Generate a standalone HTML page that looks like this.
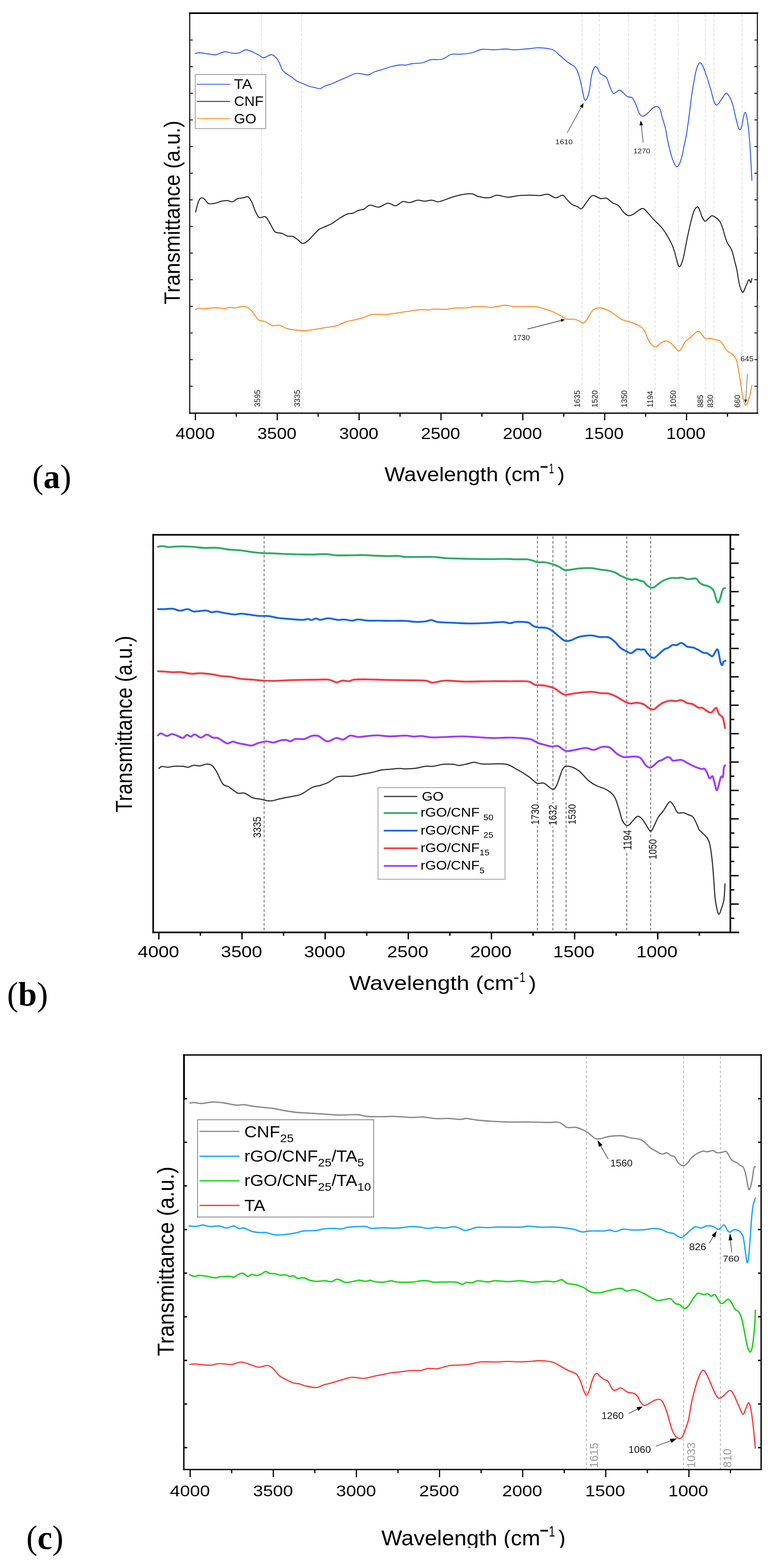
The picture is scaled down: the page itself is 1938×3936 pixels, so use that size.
<!DOCTYPE html><html><head><meta charset="utf-8"><style>html,body{margin:0;padding:0;background:#fff;overflow:hidden;width:1938px;height:3936px;}svg{display:block;}text{font-family:"Liberation Sans",Arial,sans-serif;}.serif{font-family:"Liberation Serif","Times New Roman",serif;font-weight:bold;}</style></head><body>
<svg width="1938" height="3936" viewBox="0 0 1938 3936">
<rect width="1938" height="3936" fill="#fff"/>
<line x1="656.5" y1="36.0" x2="656.5" y2="1035.0" stroke="#d4d4d4" stroke-width="1.60" stroke-dasharray="7,5"/>
<line x1="757.0" y1="36.0" x2="757.0" y2="1035.0" stroke="#d4d4d4" stroke-width="1.60" stroke-dasharray="7,5"/>
<line x1="1461.0" y1="36.0" x2="1461.0" y2="1035.0" stroke="#d4d4d4" stroke-width="1.60" stroke-dasharray="7,5"/>
<line x1="1504.5" y1="36.0" x2="1504.5" y2="1035.0" stroke="#d4d4d4" stroke-width="1.60" stroke-dasharray="7,5"/>
<line x1="1578.0" y1="36.0" x2="1578.0" y2="1035.0" stroke="#d4d4d4" stroke-width="1.60" stroke-dasharray="7,5"/>
<line x1="1644.5" y1="36.0" x2="1644.5" y2="1035.0" stroke="#d4d4d4" stroke-width="1.60" stroke-dasharray="7,5"/>
<line x1="1702.5" y1="36.0" x2="1702.5" y2="1035.0" stroke="#d4d4d4" stroke-width="1.60" stroke-dasharray="7,5"/>
<line x1="1770.5" y1="36.0" x2="1770.5" y2="1035.0" stroke="#d4d4d4" stroke-width="1.60" stroke-dasharray="7,5"/>
<line x1="1792.5" y1="36.0" x2="1792.5" y2="1035.0" stroke="#d4d4d4" stroke-width="1.60" stroke-dasharray="7,5"/>
<line x1="1862.6" y1="36.0" x2="1862.6" y2="1035.0" stroke="#d4d4d4" stroke-width="1.60" stroke-dasharray="7,5"/>
<path d="M490.0,134.0 C491.8,133.8 495.8,132.3 501.0,132.5 C506.2,132.7 514.3,134.2 521.0,135.0 C527.7,135.8 533.9,138.3 541.0,137.5 C548.1,136.7 556.8,130.8 563.5,130.0 C570.2,129.2 575.2,132.4 581.0,133.0 C586.8,133.6 592.5,134.8 598.5,133.5 C604.5,132.2 610.8,125.3 617.0,125.0 C623.2,124.7 630.3,129.2 636.0,131.5 C641.7,133.8 646.7,136.8 651.0,139.0 C655.3,141.2 657.2,145.2 662.0,145.0 C666.8,144.8 675.2,137.9 680.0,137.5 C684.8,137.1 687.7,139.6 691.0,142.5 C694.3,145.4 697.1,149.6 700.0,155.0 C702.9,160.4 705.4,170.0 708.5,175.0 C711.6,180.0 714.8,182.1 718.5,185.0 C722.2,187.9 726.4,189.3 731.0,192.5 C735.6,195.7 741.0,201.1 746.0,204.0 C751.0,206.9 756.0,207.9 761.0,210.0 C766.0,212.1 771.0,214.8 776.0,216.5 C781.0,218.2 786.4,219.0 791.0,220.0 C795.6,221.0 799.3,223.2 803.5,222.5 C807.7,221.8 810.6,218.2 816.0,216.0 C821.4,213.8 829.3,211.7 836.0,209.0 C842.7,206.3 849.3,202.9 856.0,200.0 C862.7,197.1 870.2,194.0 876.0,191.5 C881.8,189.0 886.0,186.1 891.0,185.0 C896.0,183.9 900.6,184.5 906.0,185.0 C911.4,185.5 917.7,188.8 923.5,188.0 C929.3,187.2 934.8,182.3 941.0,180.0 C947.2,177.7 954.3,176.1 961.0,174.0 C967.7,171.9 973.9,169.3 981.0,167.5 C988.1,165.7 997.2,163.7 1003.5,163.0 C1009.8,162.3 1013.5,164.0 1018.5,163.5 C1023.5,163.0 1026.4,161.0 1033.5,160.0 C1040.6,159.0 1053.1,159.2 1061.0,157.5 C1068.9,155.8 1072.8,151.5 1081.0,150.0 C1089.2,148.5 1101.4,150.8 1110.0,148.5 C1118.6,146.2 1125.0,138.6 1132.5,136.5 C1140.0,134.4 1146.7,136.6 1155.0,136.0 C1163.3,135.4 1173.3,135.0 1182.5,133.0 C1191.7,131.0 1200.4,125.3 1210.0,124.0 C1219.6,122.7 1230.0,125.2 1240.0,125.0 C1250.0,124.8 1261.7,123.0 1270.0,123.0 C1278.3,123.0 1280.8,125.1 1290.0,125.0 C1299.2,124.9 1314.2,123.3 1325.0,122.5 C1335.8,121.7 1344.6,119.6 1355.0,120.0 C1365.4,120.4 1379.2,121.8 1387.5,125.0 C1395.8,128.2 1398.8,133.8 1405.0,139.0 C1411.2,144.2 1418.8,151.2 1425.0,156.0 C1431.2,160.8 1438.3,163.5 1442.5,167.5 C1446.7,171.5 1447.5,173.8 1450.0,180.0 C1452.5,186.2 1455.4,196.7 1457.5,205.0 C1459.6,213.3 1460.8,222.5 1462.5,230.0 C1464.2,237.5 1465.8,246.8 1467.5,250.0 C1469.2,253.2 1470.6,252.3 1472.5,249.0 C1474.4,245.7 1476.9,239.8 1479.0,230.0 C1481.1,220.2 1482.8,200.2 1485.0,190.0 C1487.2,179.8 1490.2,172.3 1492.5,169.0 C1494.8,165.7 1496.5,167.3 1499.0,170.0 C1501.5,172.7 1503.6,180.8 1507.5,185.0 C1511.4,189.2 1518.8,190.0 1522.5,195.0 C1526.2,200.0 1527.2,208.5 1530.0,215.0 C1532.8,221.5 1536.1,231.3 1539.0,234.0 C1541.9,236.7 1544.8,232.3 1547.5,231.0 C1550.2,229.7 1552.5,226.0 1555.0,226.0 C1557.5,226.0 1559.2,228.2 1562.5,231.0 C1565.8,233.8 1570.8,240.0 1575.0,242.5 C1579.2,245.0 1583.8,242.2 1587.5,246.0 C1591.2,249.8 1594.6,258.5 1597.5,265.0 C1600.4,271.5 1602.3,280.5 1605.0,285.0 C1607.7,289.5 1610.4,292.0 1613.8,292.0 C1617.1,292.0 1621.0,288.2 1625.0,285.0 C1629.0,281.8 1633.8,275.4 1637.5,272.5 C1641.2,269.6 1644.4,267.5 1647.5,267.5 C1650.6,267.5 1653.8,267.9 1656.2,272.5 C1658.8,277.1 1660.2,287.1 1662.5,295.0 C1664.8,302.9 1667.9,311.2 1670.0,320.0 C1672.1,328.8 1673.1,338.3 1675.0,347.5 C1676.9,356.7 1679.2,366.7 1681.2,375.0 C1683.3,383.3 1685.2,390.8 1687.5,397.5 C1689.8,404.2 1692.9,411.5 1695.0,415.0 C1697.1,418.5 1698.1,419.6 1700.0,418.8 C1701.9,417.9 1704.2,414.8 1706.2,410.0 C1708.3,405.2 1710.6,397.5 1712.5,390.0 C1714.4,382.5 1715.8,372.9 1717.5,365.0 C1719.2,357.1 1720.4,355.0 1722.5,342.5 C1724.6,330.0 1727.7,307.1 1730.0,290.0 C1732.3,272.9 1734.0,255.8 1736.2,240.0 C1738.5,224.2 1741.5,206.9 1743.8,195.0 C1746.0,183.1 1747.7,175.0 1750.0,168.8 C1752.3,162.5 1755.0,157.7 1757.5,157.5 C1760.0,157.3 1762.1,161.2 1765.0,167.5 C1767.9,173.8 1771.7,185.0 1775.0,195.0 C1778.3,205.0 1782.1,217.5 1785.0,227.5 C1787.9,237.5 1790.2,249.0 1792.5,255.0 C1794.8,261.0 1796.2,263.8 1798.8,263.8 C1801.2,263.8 1804.4,259.0 1807.5,255.0 C1810.6,251.0 1814.8,243.5 1817.5,240.0 C1820.2,236.5 1821.2,232.9 1823.8,233.8 C1826.2,234.6 1829.8,239.8 1832.5,245.0 C1835.2,250.2 1837.5,256.2 1840.0,265.0 C1842.5,273.8 1845.0,287.7 1847.5,297.5 C1850.0,307.3 1852.7,320.0 1855.0,323.8 C1857.3,327.5 1859.4,324.8 1861.2,320.0 C1863.1,315.2 1864.7,301.3 1866.2,295.0 C1867.8,288.7 1869.0,282.0 1870.5,282.0 C1872.0,282.0 1873.4,286.6 1875.0,295.0 C1876.6,303.4 1878.5,317.9 1880.0,332.5 C1881.5,347.1 1882.5,362.5 1883.8,382.5 C1885.0,402.5 1886.9,440.8 1887.5,452.5" fill="none" stroke="#2f55ff" stroke-width="2.30" stroke-linejoin="round" stroke-linecap="round"/>
<path d="M491.0,532.5 C492.2,527.9 496.0,511.0 498.5,505.0 C501.0,499.0 503.5,497.3 506.0,496.5 C508.5,495.7 510.6,497.6 513.5,500.0 C516.4,502.4 518.9,509.3 523.5,511.0 C528.1,512.7 535.6,511.0 541.0,510.0 C546.4,509.0 551.0,506.1 556.0,505.0 C561.0,503.9 566.4,503.2 571.0,503.5 C575.6,503.8 579.3,507.2 583.5,506.5 C587.7,505.8 591.4,500.7 596.0,499.0 C600.6,497.3 606.7,497.3 611.0,496.5 C615.3,495.7 618.7,492.6 622.0,494.0 C625.3,495.4 627.8,499.0 631.0,505.0 C634.2,511.0 637.7,523.2 641.0,530.0 C644.3,536.8 646.8,543.7 651.0,546.0 C655.2,548.3 661.8,542.1 666.0,544.0 C670.2,545.9 672.2,551.5 676.0,557.5 C679.8,563.5 685.2,575.6 688.5,580.0 C691.8,584.4 692.7,583.0 696.0,584.0 C699.3,585.0 704.3,584.6 708.5,586.0 C712.7,587.4 716.4,591.2 721.0,592.5 C725.6,593.8 731.4,592.3 736.0,594.0 C740.6,595.7 744.6,599.7 748.5,602.5 C752.4,605.3 755.8,610.4 759.5,611.0 C763.2,611.6 766.6,609.3 771.0,606.0 C775.4,602.7 781.0,596.0 786.0,591.0 C791.0,586.0 796.0,579.7 801.0,576.0 C806.0,572.3 810.6,571.5 816.0,569.0 C821.4,566.5 827.7,564.3 833.5,561.0 C839.3,557.7 844.8,552.9 851.0,549.0 C857.2,545.1 865.2,539.8 871.0,537.5 C876.8,535.2 881.0,536.7 886.0,535.0 C891.0,533.3 896.4,529.2 901.0,527.5 C905.6,525.8 908.9,527.1 913.5,525.0 C918.1,522.9 922.2,515.8 928.5,515.0 C934.8,514.2 943.5,520.8 951.0,520.0 C958.5,519.2 966.4,510.6 973.5,510.0 C980.6,509.4 987.2,517.2 993.5,516.5 C999.8,515.8 1005.2,507.3 1011.0,506.0 C1016.8,504.7 1022.2,509.1 1028.5,508.5 C1034.8,507.9 1042.2,503.1 1048.5,502.5 C1054.8,501.9 1060.2,505.0 1066.0,505.0 C1071.8,505.0 1078.1,502.2 1083.5,502.5 C1088.9,502.8 1094.1,506.2 1098.5,506.5 C1102.9,506.8 1103.9,505.9 1110.0,504.0 C1116.1,502.1 1126.7,497.6 1135.0,495.0 C1143.3,492.4 1151.7,489.9 1160.0,488.5 C1168.3,487.1 1178.3,485.8 1185.0,486.5 C1191.7,487.2 1192.9,491.3 1200.0,493.0 C1207.1,494.7 1219.6,497.0 1227.5,496.5 C1235.4,496.0 1239.6,490.2 1247.5,490.0 C1255.4,489.8 1265.8,494.8 1275.0,495.0 C1284.2,495.2 1292.5,491.8 1302.5,491.0 C1312.5,490.2 1326.2,490.0 1335.0,490.0 C1343.8,490.0 1348.3,491.4 1355.0,491.0 C1361.7,490.6 1368.3,486.6 1375.0,487.5 C1381.7,488.4 1388.8,496.1 1395.0,496.5 C1401.2,496.9 1407.9,489.4 1412.5,490.0 C1417.1,490.6 1418.8,496.2 1422.5,500.0 C1426.2,503.8 1430.4,509.3 1435.0,512.5 C1439.6,515.7 1445.8,517.1 1450.0,519.0 C1454.2,520.9 1456.2,525.9 1460.0,524.0 C1463.8,522.1 1467.9,513.0 1472.5,507.5 C1477.1,502.0 1481.7,492.5 1487.5,491.0 C1493.3,489.5 1501.7,497.4 1507.5,498.5 C1513.3,499.6 1517.5,495.8 1522.5,497.5 C1527.5,499.2 1532.5,505.9 1537.5,509.0 C1542.5,512.1 1547.9,512.1 1552.5,516.0 C1557.1,519.9 1560.8,528.3 1565.0,532.5 C1569.2,536.7 1573.3,540.2 1577.5,541.0 C1581.7,541.8 1584.6,540.3 1590.0,537.5 C1595.4,534.7 1605.0,525.7 1610.0,524.0 C1615.0,522.3 1615.0,523.2 1620.0,527.5 C1625.0,531.8 1633.3,542.9 1640.0,550.0 C1646.7,557.1 1654.6,563.8 1660.0,570.0 C1665.4,576.2 1668.1,580.3 1672.5,587.5 C1676.9,594.7 1683.2,606.5 1686.5,613.3 C1689.8,620.1 1690.2,622.3 1692.1,628.2 C1694.0,634.1 1696.1,642.6 1697.8,648.8 C1699.5,655.0 1701.0,662.2 1702.4,665.6 C1703.8,669.0 1704.8,669.9 1706.2,669.3 C1707.6,668.7 1709.1,666.2 1710.8,661.9 C1712.5,657.5 1714.5,651.3 1716.4,643.2 C1718.3,635.1 1720.4,622.0 1722.1,613.3 C1723.8,604.6 1724.7,600.1 1726.7,590.8 C1728.7,581.4 1731.7,567.2 1734.2,557.2 C1736.7,547.2 1739.2,537.2 1741.7,531.0 C1744.2,524.8 1747.0,521.0 1749.2,519.8 C1751.4,518.6 1752.6,519.5 1754.8,523.6 C1757.0,527.7 1759.7,538.8 1762.2,544.1 C1764.7,549.4 1767.2,554.4 1769.7,555.3 C1772.2,556.2 1774.4,551.9 1777.2,549.7 C1780.0,547.5 1783.7,542.8 1786.5,541.9 C1789.3,541.0 1790.9,542.2 1794.0,544.1 C1797.1,546.0 1802.1,549.5 1805.2,553.5 C1808.3,557.5 1810.4,562.2 1812.7,568.4 C1815.0,574.6 1817.1,583.9 1819.3,590.8 C1821.5,597.6 1822.8,603.3 1825.8,609.5 C1828.8,615.7 1833.9,620.4 1837.0,628.2 C1840.1,636.0 1842.3,647.9 1844.5,656.3 C1846.7,664.7 1848.2,669.4 1850.1,678.7 C1852.0,688.0 1853.5,703.3 1855.7,712.3 C1857.9,721.3 1861.3,729.8 1863.2,732.9 C1865.1,736.0 1865.2,733.8 1866.9,731.0 C1868.6,728.2 1871.3,720.9 1873.5,716.1 C1875.7,711.3 1878.1,703.2 1880.0,702.1 C1881.9,701.0 1883.5,710.0 1884.7,709.5 C1886.0,709.0 1887.0,701.0 1887.5,699.3" fill="none" stroke="#222" stroke-width="2.50" stroke-linejoin="round" stroke-linecap="round"/>
<path d="M490.0,777.5 C491.4,776.8 494.6,773.8 498.5,773.5 C502.4,773.2 508.5,775.6 513.5,775.5 C518.5,775.4 522.2,773.4 528.5,773.0 C534.8,772.6 545.2,772.7 551.0,773.0 C556.8,773.3 559.3,775.2 563.5,775.0 C567.7,774.8 571.8,771.8 576.0,771.5 C580.2,771.2 583.1,773.4 588.5,773.0 C593.9,772.6 603.1,769.2 608.5,769.0 C613.9,768.8 616.8,769.2 621.0,771.5 C625.2,773.8 628.9,777.3 633.5,782.5 C638.1,787.7 643.1,798.3 648.5,802.5 C653.9,806.7 660.2,805.0 666.0,807.5 C671.8,810.0 677.7,816.0 683.5,817.5 C689.3,819.0 694.8,815.2 701.0,816.5 C707.2,817.8 713.5,822.9 721.0,825.0 C728.5,827.1 738.5,828.2 746.0,829.0 C753.5,829.8 759.3,830.2 766.0,830.0 C772.7,829.8 777.7,828.8 786.0,827.5 C794.3,826.2 806.0,824.2 816.0,822.5 C826.0,820.8 837.2,820.0 846.0,817.5 C854.8,815.0 861.8,809.8 868.5,807.5 C875.2,805.2 878.9,805.7 886.0,804.0 C893.1,802.3 903.5,799.8 911.0,797.5 C918.5,795.2 924.3,791.4 931.0,790.0 C937.7,788.6 943.9,789.2 951.0,789.0 C958.1,788.8 965.2,789.7 973.5,789.0 C981.8,788.3 989.8,786.7 1001.0,785.0 C1012.2,783.3 1031.0,780.3 1041.0,779.0 C1051.0,777.7 1055.2,777.2 1061.0,777.0 C1066.8,776.8 1071.4,778.2 1076.0,778.0 C1080.6,777.8 1082.8,776.2 1088.5,776.0 C1094.2,775.8 1103.9,776.5 1110.0,776.5 C1116.1,776.5 1119.2,776.6 1125.0,776.0 C1130.8,775.4 1137.5,773.5 1145.0,773.0 C1152.5,772.5 1162.5,773.5 1170.0,773.0 C1177.5,772.5 1182.5,770.5 1190.0,770.0 C1197.5,769.5 1207.9,769.7 1215.0,770.0 C1222.1,770.3 1226.7,772.2 1232.5,772.0 C1238.3,771.8 1243.9,770.0 1250.0,769.0 C1256.1,768.0 1262.3,765.9 1269.0,766.0 C1275.7,766.1 1281.5,768.9 1290.0,769.5 C1298.5,770.1 1310.8,769.4 1320.0,769.5 C1329.2,769.6 1337.5,769.1 1345.0,770.0 C1352.5,770.9 1358.3,773.1 1365.0,775.0 C1371.7,776.9 1378.3,778.8 1385.0,781.5 C1391.7,784.2 1398.8,787.8 1405.0,791.0 C1411.2,794.2 1416.7,799.3 1422.5,801.0 C1428.3,802.7 1435.0,800.3 1440.0,801.0 C1445.0,801.7 1448.8,803.3 1452.5,805.0 C1456.2,806.7 1459.2,811.2 1462.5,811.0 C1465.8,810.8 1468.8,808.8 1472.5,804.0 C1476.2,799.2 1480.8,787.6 1485.0,782.5 C1489.2,777.4 1492.9,774.9 1497.5,773.5 C1502.1,772.1 1506.7,772.5 1512.5,774.0 C1518.3,775.5 1526.2,779.0 1532.5,782.5 C1538.8,786.0 1544.6,791.4 1550.0,795.0 C1555.4,798.6 1560.0,801.9 1565.0,804.0 C1570.0,806.1 1573.3,805.1 1580.0,807.5 C1586.7,809.9 1598.8,814.8 1605.0,818.5 C1611.2,822.2 1613.3,823.5 1617.5,830.0 C1621.7,836.5 1625.4,850.7 1630.0,857.5 C1634.6,864.3 1640.4,870.2 1645.0,871.0 C1649.6,871.8 1653.3,865.0 1657.5,862.5 C1661.7,860.0 1665.8,856.4 1670.0,856.0 C1674.2,855.6 1678.3,857.2 1682.5,860.0 C1686.7,862.8 1691.5,869.0 1695.0,872.5 C1698.5,876.0 1700.9,880.5 1703.4,881.1 C1705.9,881.8 1707.0,880.5 1709.9,876.4 C1712.9,872.3 1717.0,861.8 1721.1,856.8 C1725.1,851.8 1730.5,849.8 1734.2,846.5 C1738.0,843.2 1740.6,839.7 1743.6,837.2 C1746.6,834.7 1749.5,831.9 1752.0,831.6 C1754.5,831.3 1756.2,833.0 1758.5,835.3 C1760.8,837.6 1763.8,843.1 1766.0,845.6 C1768.2,848.1 1768.8,849.7 1771.6,850.3 C1774.4,850.9 1779.1,849.0 1782.8,849.3 C1786.5,849.6 1790.3,851.1 1794.0,852.1 C1797.7,853.1 1802.1,853.4 1805.2,855.0 C1808.3,856.6 1809.9,857.9 1812.7,861.5 C1815.5,865.1 1819.3,872.7 1822.1,876.4 C1824.9,880.1 1826.7,881.7 1829.5,883.9 C1832.3,886.1 1835.9,886.7 1838.9,889.5 C1841.9,892.3 1845.1,896.0 1847.3,900.7 C1849.5,905.4 1850.3,909.2 1852.0,917.6 C1853.7,926.0 1855.7,939.4 1857.6,951.2 C1859.5,963.0 1861.5,978.9 1863.2,988.6 C1864.9,998.3 1866.4,1004.4 1867.9,1009.2 C1869.5,1014.0 1870.8,1017.9 1872.5,1017.6 C1874.2,1017.3 1876.2,1012.4 1878.1,1007.3 C1880.0,1002.1 1882.1,993.4 1883.7,986.7 C1885.3,980.0 1886.9,970.4 1887.5,967.1" fill="none" stroke="#ff8a1e" stroke-width="2.40" stroke-linejoin="round" stroke-linecap="round"/>
<rect x="474.5" y="31.0" width="1429.0" height="4.0" fill="#000"/>
<rect x="475.0" y="31.0" width="2.6" height="1008.0" fill="#000"/>
<rect x="1900.0" y="31.0" width="2.4" height="1008.0" fill="#000"/>
<rect x="1899.5" y="110.0" width="3.6" height="481.0" fill="#5e5e5e"/>
<rect x="1899.5" y="755.0" width="3.6" height="284.0" fill="#5e5e5e"/>
<rect x="474.5" y="1035.5" width="1429.0" height="3.2" fill="#000"/>
<line x1="476.0" y1="100.5" x2="484.0" y2="100.5" stroke="#000" stroke-width="2.20"/>
<line x1="1893.8" y1="100.5" x2="1901.0" y2="100.5" stroke="#000" stroke-width="2.20"/>
<line x1="476.0" y1="167.3" x2="484.0" y2="167.3" stroke="#000" stroke-width="2.20"/>
<line x1="1893.8" y1="167.3" x2="1901.0" y2="167.3" stroke="#000" stroke-width="2.20"/>
<line x1="476.0" y1="234.2" x2="484.0" y2="234.2" stroke="#000" stroke-width="2.20"/>
<line x1="1893.8" y1="234.2" x2="1901.0" y2="234.2" stroke="#000" stroke-width="2.20"/>
<line x1="476.0" y1="301.0" x2="484.0" y2="301.0" stroke="#000" stroke-width="2.20"/>
<line x1="1893.8" y1="301.0" x2="1901.0" y2="301.0" stroke="#000" stroke-width="2.20"/>
<line x1="476.0" y1="367.9" x2="484.0" y2="367.9" stroke="#000" stroke-width="2.20"/>
<line x1="1893.8" y1="367.9" x2="1901.0" y2="367.9" stroke="#000" stroke-width="2.20"/>
<line x1="476.0" y1="434.8" x2="484.0" y2="434.8" stroke="#000" stroke-width="2.20"/>
<line x1="1893.8" y1="434.8" x2="1901.0" y2="434.8" stroke="#000" stroke-width="2.20"/>
<line x1="476.0" y1="501.6" x2="484.0" y2="501.6" stroke="#000" stroke-width="2.20"/>
<line x1="1893.8" y1="501.6" x2="1901.0" y2="501.6" stroke="#000" stroke-width="2.20"/>
<line x1="476.0" y1="568.4" x2="484.0" y2="568.4" stroke="#000" stroke-width="2.20"/>
<line x1="1893.8" y1="568.4" x2="1901.0" y2="568.4" stroke="#000" stroke-width="2.20"/>
<line x1="476.0" y1="635.3" x2="484.0" y2="635.3" stroke="#000" stroke-width="2.20"/>
<line x1="1893.8" y1="635.3" x2="1901.0" y2="635.3" stroke="#000" stroke-width="2.20"/>
<line x1="476.0" y1="702.1" x2="484.0" y2="702.1" stroke="#000" stroke-width="2.20"/>
<line x1="1893.8" y1="702.1" x2="1901.0" y2="702.1" stroke="#000" stroke-width="2.20"/>
<line x1="476.0" y1="769.0" x2="484.0" y2="769.0" stroke="#000" stroke-width="2.20"/>
<line x1="1893.8" y1="769.0" x2="1901.0" y2="769.0" stroke="#000" stroke-width="2.20"/>
<line x1="476.0" y1="835.8" x2="484.0" y2="835.8" stroke="#000" stroke-width="2.20"/>
<line x1="1893.8" y1="835.8" x2="1901.0" y2="835.8" stroke="#000" stroke-width="2.20"/>
<line x1="476.0" y1="902.7" x2="484.0" y2="902.7" stroke="#000" stroke-width="2.20"/>
<line x1="1893.8" y1="902.7" x2="1901.0" y2="902.7" stroke="#000" stroke-width="2.20"/>
<line x1="476.0" y1="969.5" x2="484.0" y2="969.5" stroke="#000" stroke-width="2.20"/>
<line x1="1893.8" y1="969.5" x2="1901.0" y2="969.5" stroke="#000" stroke-width="2.20"/>
<line x1="490.5" y1="1037.0" x2="490.5" y2="1055.0" stroke="#000" stroke-width="3.00"/>
<line x1="593.2" y1="1037.0" x2="593.2" y2="1046.0" stroke="#000" stroke-width="3.00"/>
<line x1="696.0" y1="1037.0" x2="696.0" y2="1055.0" stroke="#000" stroke-width="3.00"/>
<line x1="798.8" y1="1037.0" x2="798.8" y2="1046.0" stroke="#000" stroke-width="3.00"/>
<line x1="901.5" y1="1037.0" x2="901.5" y2="1055.0" stroke="#000" stroke-width="3.00"/>
<line x1="1004.2" y1="1037.0" x2="1004.2" y2="1046.0" stroke="#000" stroke-width="3.00"/>
<line x1="1107.0" y1="1037.0" x2="1107.0" y2="1055.0" stroke="#000" stroke-width="3.00"/>
<line x1="1209.8" y1="1037.0" x2="1209.8" y2="1046.0" stroke="#000" stroke-width="3.00"/>
<line x1="1312.5" y1="1037.0" x2="1312.5" y2="1055.0" stroke="#000" stroke-width="3.00"/>
<line x1="1415.2" y1="1037.0" x2="1415.2" y2="1046.0" stroke="#000" stroke-width="3.00"/>
<line x1="1518.0" y1="1037.0" x2="1518.0" y2="1055.0" stroke="#000" stroke-width="3.00"/>
<line x1="1620.8" y1="1037.0" x2="1620.8" y2="1046.0" stroke="#000" stroke-width="3.00"/>
<line x1="1723.5" y1="1037.0" x2="1723.5" y2="1055.0" stroke="#000" stroke-width="3.00"/>
<line x1="1826.2" y1="1037.0" x2="1826.2" y2="1046.0" stroke="#000" stroke-width="3.00"/>
<text transform="translate(440.77,1102.00) scale(1.0790,1)" font-size="41.00" fill="#000">4000</text>
<text transform="translate(645.94,1102.00) scale(1.0790,1)" font-size="41.00" fill="#000">3500</text>
<text transform="translate(851.44,1102.00) scale(1.0790,1)" font-size="41.00" fill="#000">3000</text>
<text transform="translate(1056.66,1102.00) scale(1.0790,1)" font-size="41.00" fill="#000">2500</text>
<text transform="translate(1262.16,1102.00) scale(1.0790,1)" font-size="41.00" fill="#000">2000</text>
<text transform="translate(1467.11,1102.00) scale(1.0790,1)" font-size="41.00" fill="#000">1500</text>
<text transform="translate(1672.61,1102.00) scale(1.0790,1)" font-size="41.00" fill="#000">1000</text>
<rect x="490.3" y="187.1" width="176.9" height="135.6" fill="#fff" stroke="#9a9a9a" stroke-width="2"/>
<line x1="494.0" y1="211.5" x2="577.5" y2="211.5" stroke="#2f55ff" stroke-width="2.00"/>
<line x1="494.0" y1="254.6" x2="577.5" y2="254.6" stroke="#555" stroke-width="2.60"/>
<line x1="494.0" y1="297.5" x2="577.5" y2="297.5" stroke="#ff8a1e" stroke-width="2.20"/>
<text transform="translate(587.35,223.30) scale(1.0738,1)" font-size="35.20" fill="#000">TA</text>
<text transform="translate(587.50,266.05) scale(1.0320,1)" font-size="34.91" fill="#000">CNF</text>
<text transform="translate(587.49,309.75) scale(1.0357,1)" font-size="34.91" fill="#000">GO</text>
<text transform="translate(652.83,1021.52) scale(1.0000,1) rotate(-90)" font-size="19.30" fill="#1a1a1a">3595</text>
<text transform="translate(752.83,1021.52) scale(1.0000,1) rotate(-90)" font-size="19.30" fill="#1a1a1a">3335</text>
<text transform="translate(1455.63,1022.65) scale(1.0000,1) rotate(-90)" font-size="19.30" fill="#1a1a1a">1635</text>
<text transform="translate(1500.13,1022.65) scale(1.0000,1) rotate(-90)" font-size="19.30" fill="#1a1a1a">1520</text>
<text transform="translate(1574.03,1022.65) scale(1.0000,1) rotate(-90)" font-size="19.30" fill="#1a1a1a">1350</text>
<text transform="translate(1638.63,1022.65) scale(1.0000,1) rotate(-90)" font-size="19.30" fill="#1a1a1a">1194</text>
<text transform="translate(1697.33,1022.65) scale(1.0000,1) rotate(-90)" font-size="19.30" fill="#1a1a1a">1050</text>
<text transform="translate(1764.63,1023.12) scale(1.0000,1) rotate(-90)" font-size="19.30" fill="#1a1a1a">885</text>
<text transform="translate(1790.43,1023.02) scale(1.0000,1) rotate(-90)" font-size="19.30" fill="#1a1a1a">830</text>
<text transform="translate(1857.83,1023.26) scale(1.0000,1) rotate(-90)" font-size="19.30" fill="#1a1a1a">660</text>
<text transform="translate(1394.34,362.33) scale(1.1177,1)" font-size="17.39" fill="#1a1a1a">1610</text>
<line x1="1424.0" y1="333.3" x2="1460.2" y2="267.3" stroke="#222" stroke-width="1.30"/><polygon points="1465.0,258.5 1463.2,271.2 1455.3,266.9" fill="#000"/>
<text transform="translate(1590.08,385.33) scale(1.1085,1)" font-size="17.10" fill="#1a1a1a">1270</text>
<line x1="1614.6" y1="357.9" x2="1609.6" y2="312.4" stroke="#222" stroke-width="1.30"/><polygon points="1608.5,302.5 1614.3,313.9 1605.3,314.9" fill="#000"/>
<text transform="translate(1287.88,853.71) scale(0.9862,1)" font-size="19.22" fill="#1a1a1a">1730</text>
<line x1="1324.2" y1="826.0" x2="1410.4" y2="804.0" stroke="#222" stroke-width="1.30"/><polygon points="1418.2,802.0 1409.5,808.3 1407.5,800.6" fill="#000"/>
<text transform="translate(1858.81,907.21) scale(1.0256,1)" font-size="19.22" fill="#1a1a1a">645</text>
<line x1="1876.4" y1="938.8" x2="1871.9" y2="1004.9" stroke="#333" stroke-width="1.10"/><polygon points="1871.5,1010.9 1868.5,1002.7 1875.6,1003.2" fill="#000"/>
<text transform="translate(451.30,764.17) scale(1.0640,1) rotate(-90)" font-size="51.80" fill="#000">Transmittance (a.u.)</text>
<text transform="translate(965.33,1207.50) scale(1.0820,1)" font-size="50.30" fill="#000">Wavelength (cm</text>
<text transform="translate(1355.70,1184.44) scale(0.9928,1)" font-size="35.45" fill="#000" style="font-family:'Liberation Sans',Arial,sans-serif;font-weight:bold">&#8722;</text>
<text transform="translate(1378.07,1187.80) scale(0.6542,1)" font-size="35.35" fill="#000">1</text>
<text transform="translate(1399.39,1207.50) scale(1.0820,1)" font-size="50.30" fill="#000">)</text>
<text transform="translate(80.92,1225.38)" font-size="84.0" style="font-family:'Liberation Serif',serif">(<tspan font-weight="bold">a</tspan>)</text>
<line x1="663.0" y1="1346.0" x2="663.0" y2="2339.0" stroke="#2a2a2a" stroke-width="1.40" stroke-dasharray="7,4.7"/>
<line x1="1349.0" y1="1346.0" x2="1349.0" y2="2339.0" stroke="#2a2a2a" stroke-width="1.40" stroke-dasharray="7,4.7"/>
<line x1="1388.0" y1="1346.0" x2="1388.0" y2="2339.0" stroke="#2a2a2a" stroke-width="1.40" stroke-dasharray="7,4.7"/>
<line x1="1421.0" y1="1346.0" x2="1421.0" y2="2339.0" stroke="#2a2a2a" stroke-width="1.40" stroke-dasharray="7,4.7"/>
<line x1="1573.5" y1="1346.0" x2="1573.5" y2="2339.0" stroke="#2a2a2a" stroke-width="1.40" stroke-dasharray="7,4.7"/>
<line x1="1633.5" y1="1346.0" x2="1633.5" y2="2339.0" stroke="#2a2a2a" stroke-width="1.40" stroke-dasharray="7,4.7"/>
<path d="M396.5,1372.5 C398.6,1372.2 404.4,1370.8 409.0,1371.0 C413.6,1371.2 419.0,1373.3 424.0,1373.5 C429.0,1373.7 433.2,1372.3 439.0,1372.0 C444.8,1371.7 451.5,1371.4 459.0,1371.5 C466.5,1371.6 474.8,1371.8 484.0,1372.5 C493.2,1373.2 504.0,1375.1 514.0,1375.5 C524.0,1375.9 534.0,1374.3 544.0,1375.0 C554.0,1375.7 564.0,1378.4 574.0,1379.5 C584.0,1380.6 594.0,1380.4 604.0,1381.5 C614.0,1382.6 624.4,1384.8 634.0,1386.0 C643.6,1387.2 653.2,1388.0 661.5,1388.5 C669.8,1389.0 675.2,1388.7 684.0,1389.0 C692.8,1389.3 704.0,1390.1 714.0,1390.5 C724.0,1390.9 732.3,1391.2 744.0,1391.5 C755.7,1391.8 771.5,1392.1 784.0,1392.0 C796.5,1391.9 809.0,1390.7 819.0,1391.0 C829.0,1391.3 834.0,1393.5 844.0,1394.0 C854.0,1394.5 867.3,1394.1 879.0,1394.0 C890.7,1393.9 903.2,1393.3 914.0,1393.5 C924.8,1393.7 934.0,1394.6 944.0,1395.0 C954.0,1395.4 964.8,1395.9 974.0,1396.0 C983.2,1396.1 991.7,1395.2 999.0,1395.5 C1006.3,1395.8 1009.8,1397.6 1018.0,1398.0 C1026.2,1398.4 1036.3,1398.0 1048.0,1398.0 C1059.7,1398.0 1076.3,1397.5 1088.0,1398.0 C1099.7,1398.5 1108.0,1400.3 1118.0,1401.0 C1128.0,1401.7 1136.3,1401.7 1148.0,1402.0 C1159.7,1402.3 1174.7,1402.8 1188.0,1403.0 C1201.3,1403.2 1214.7,1403.5 1228.0,1403.5 C1241.3,1403.5 1256.3,1402.9 1268.0,1403.0 C1279.7,1403.1 1288.8,1403.8 1298.0,1404.0 C1307.2,1404.2 1316.3,1403.4 1323.0,1404.0 C1329.7,1404.6 1333.4,1406.2 1338.0,1407.5 C1342.6,1408.8 1345.5,1410.8 1350.5,1411.5 C1355.5,1412.2 1361.8,1410.7 1368.0,1411.5 C1374.2,1412.3 1382.2,1414.7 1388.0,1416.5 C1393.8,1418.3 1398.0,1420.1 1403.0,1422.5 C1408.0,1424.9 1413.0,1429.8 1418.0,1431.0 C1423.0,1432.2 1427.2,1430.7 1433.0,1430.0 C1438.8,1429.3 1444.7,1427.7 1453.0,1427.0 C1461.3,1426.3 1473.8,1425.5 1483.0,1426.0 C1492.2,1426.5 1500.5,1428.9 1508.0,1430.0 C1515.5,1431.1 1521.8,1431.2 1528.0,1432.5 C1534.2,1433.8 1540.1,1435.4 1545.0,1437.5 C1549.9,1439.6 1552.7,1442.6 1557.5,1445.0 C1562.3,1447.4 1569.0,1450.2 1573.8,1452.0 C1578.5,1453.8 1582.5,1455.2 1586.2,1455.5 C1590.0,1455.8 1592.7,1453.3 1596.2,1453.8 C1599.8,1454.2 1604.4,1457.0 1607.5,1458.0 C1610.6,1459.0 1612.1,1457.5 1615.0,1459.5 C1617.9,1461.5 1621.9,1467.5 1625.0,1470.0 C1628.1,1472.5 1631.0,1473.8 1633.8,1474.5 C1636.5,1475.2 1638.1,1475.9 1641.2,1474.5 C1644.4,1473.1 1648.5,1469.1 1652.5,1466.2 C1656.5,1463.4 1659.6,1460.1 1665.0,1457.5 C1670.4,1454.9 1679.6,1451.8 1685.0,1450.8 C1690.4,1449.7 1692.9,1451.4 1697.5,1451.2 C1702.1,1451.1 1707.9,1449.6 1712.5,1450.0 C1717.1,1450.4 1721.2,1453.2 1725.0,1453.8 C1728.8,1454.2 1731.2,1453.2 1735.0,1453.0 C1738.8,1452.8 1743.8,1450.7 1747.5,1452.5 C1751.2,1454.3 1754.2,1461.0 1757.5,1463.8 C1760.8,1466.5 1764.2,1467.5 1767.5,1468.8 C1770.8,1470.0 1774.2,1469.8 1777.5,1471.2 C1780.8,1472.7 1785.0,1475.2 1787.5,1477.5 C1790.0,1479.8 1790.8,1480.8 1792.5,1485.0 C1794.2,1489.2 1795.9,1497.9 1797.5,1502.5 C1799.1,1507.1 1800.5,1511.7 1802.0,1512.5 C1803.5,1513.3 1804.7,1511.2 1806.2,1507.5 C1807.8,1503.8 1809.8,1494.8 1811.2,1490.0 C1812.7,1485.2 1813.5,1481.0 1815.0,1478.8 C1816.5,1476.5 1819.2,1476.7 1820.0,1476.2" fill="none" stroke="#2eaa64" stroke-width="4.70" stroke-linejoin="round" stroke-linecap="round"/>
<path d="M396.5,1529.0 C399.4,1529.0 407.8,1529.2 414.0,1529.0 C420.2,1528.8 427.8,1527.3 434.0,1528.0 C440.2,1528.7 445.2,1532.8 451.5,1533.0 C457.8,1533.2 465.7,1528.7 471.5,1529.0 C477.3,1529.3 479.0,1534.4 486.5,1535.0 C494.0,1535.6 509.0,1532.2 516.5,1532.5 C524.0,1532.8 526.9,1536.6 531.5,1537.0 C536.1,1537.4 538.6,1534.7 544.0,1535.0 C549.4,1535.3 556.5,1537.8 564.0,1539.0 C571.5,1540.2 582.3,1542.2 589.0,1542.5 C595.7,1542.8 598.2,1540.5 604.0,1540.5 C609.8,1540.5 616.5,1541.6 624.0,1542.5 C631.5,1543.4 640.7,1545.3 649.0,1546.0 C657.3,1546.7 666.1,1545.7 674.0,1546.5 C681.9,1547.3 688.2,1549.8 696.5,1551.0 C704.8,1552.2 713.6,1552.7 724.0,1553.5 C734.4,1554.3 750.7,1556.0 759.0,1556.0 C767.3,1556.0 770.2,1553.4 774.0,1553.5 C777.8,1553.6 778.2,1556.7 781.5,1556.5 C784.8,1556.3 790.2,1552.6 794.0,1552.5 C797.8,1552.4 799.0,1556.1 804.0,1556.0 C809.0,1555.9 816.5,1552.0 824.0,1552.0 C831.5,1552.0 842.3,1555.5 849.0,1556.0 C855.7,1556.5 858.2,1554.7 864.0,1555.0 C869.8,1555.3 878.2,1558.0 884.0,1558.0 C889.8,1558.0 892.3,1555.0 899.0,1555.0 C905.7,1555.0 915.7,1557.5 924.0,1558.0 C932.3,1558.5 939.0,1557.9 949.0,1558.0 C959.0,1558.1 972.5,1558.4 984.0,1558.5 C995.5,1558.6 1008.2,1558.1 1018.0,1558.5 C1027.8,1558.9 1034.7,1560.8 1043.0,1561.0 C1051.3,1561.2 1061.3,1560.8 1068.0,1560.0 C1074.7,1559.2 1077.6,1556.2 1083.0,1556.5 C1088.4,1556.8 1090.5,1560.3 1100.5,1561.5 C1110.5,1562.7 1129.2,1562.9 1143.0,1563.5 C1156.8,1564.1 1168.8,1565.0 1183.0,1565.0 C1197.2,1565.0 1214.7,1564.1 1228.0,1563.5 C1241.3,1562.9 1254.2,1561.3 1263.0,1561.5 C1271.8,1561.7 1275.1,1564.6 1280.5,1564.5 C1285.9,1564.4 1288.0,1561.3 1295.5,1561.0 C1303.0,1560.7 1318.4,1560.8 1325.5,1562.5 C1332.6,1564.2 1333.8,1568.9 1338.0,1571.0 C1342.2,1573.1 1344.7,1574.1 1350.5,1575.0 C1356.3,1575.9 1366.8,1574.8 1373.0,1576.5 C1379.2,1578.2 1383.0,1581.5 1388.0,1585.0 C1393.0,1588.5 1398.0,1593.6 1403.0,1597.5 C1408.0,1601.4 1413.0,1606.8 1418.0,1608.5 C1423.0,1610.2 1427.2,1609.1 1433.0,1607.5 C1438.8,1605.9 1444.7,1601.1 1453.0,1599.0 C1461.3,1596.9 1474.2,1595.0 1483.0,1595.0 C1491.8,1595.0 1498.0,1598.2 1505.5,1599.0 C1513.0,1599.8 1521.4,1597.8 1528.0,1600.0 C1534.6,1602.2 1540.1,1608.1 1545.0,1612.5 C1549.9,1616.9 1552.9,1622.5 1557.5,1626.2 C1562.1,1630.0 1567.9,1632.8 1572.5,1635.0 C1577.1,1637.2 1580.6,1640.3 1585.0,1639.5 C1589.4,1638.7 1594.6,1631.5 1598.8,1630.0 C1602.9,1628.5 1606.9,1630.7 1610.0,1630.8 C1613.1,1630.8 1615.0,1629.0 1617.5,1630.5 C1620.0,1632.0 1622.3,1637.0 1625.0,1640.0 C1627.7,1643.0 1630.8,1646.9 1633.8,1648.8 C1636.7,1650.6 1639.0,1652.5 1642.5,1651.2 C1646.0,1650.0 1650.8,1644.8 1655.0,1641.2 C1659.2,1637.7 1663.8,1632.5 1667.5,1630.0 C1671.2,1627.5 1674.0,1628.1 1677.5,1626.2 C1681.0,1624.4 1685.2,1619.9 1688.8,1618.8 C1692.3,1617.6 1695.0,1620.3 1698.8,1619.5 C1702.5,1618.7 1706.9,1613.1 1711.2,1613.8 C1715.6,1614.4 1720.2,1621.3 1725.0,1623.2 C1729.8,1625.2 1735.0,1624.0 1740.0,1625.5 C1745.0,1627.0 1750.6,1630.3 1755.0,1632.5 C1759.4,1634.7 1762.9,1637.6 1766.2,1638.8 C1769.6,1639.9 1771.5,1638.0 1775.0,1639.5 C1778.5,1641.0 1784.4,1647.4 1787.5,1647.5 C1790.6,1647.6 1791.7,1642.9 1793.8,1640.0 C1795.8,1637.1 1798.3,1630.4 1800.0,1630.0 C1801.7,1629.6 1802.3,1632.1 1803.8,1637.5 C1805.2,1642.9 1807.2,1657.1 1808.8,1662.5 C1810.3,1667.9 1811.8,1670.2 1813.0,1670.0 C1814.2,1669.8 1814.9,1663.1 1816.2,1661.2 C1817.6,1659.4 1820.4,1659.2 1821.2,1658.8" fill="none" stroke="#1a66e0" stroke-width="4.70" stroke-linejoin="round" stroke-linecap="round"/>
<path d="M396.5,1685.0 C399.4,1685.2 407.8,1685.6 414.0,1686.0 C420.2,1686.4 427.3,1687.3 434.0,1687.5 C440.7,1687.7 446.5,1686.4 454.0,1687.0 C461.5,1687.6 470.7,1690.5 479.0,1691.0 C487.3,1691.5 494.8,1689.7 504.0,1690.0 C513.2,1690.3 525.7,1691.8 534.0,1693.0 C542.3,1694.2 546.5,1696.0 554.0,1697.0 C561.5,1698.0 570.7,1697.8 579.0,1699.0 C587.3,1700.2 594.8,1702.8 604.0,1704.0 C613.2,1705.2 624.4,1705.2 634.0,1706.0 C643.6,1706.8 651.5,1708.0 661.5,1708.5 C671.5,1709.0 683.6,1709.2 694.0,1709.0 C704.4,1708.8 712.3,1707.9 724.0,1707.5 C735.7,1707.1 751.5,1706.8 764.0,1706.5 C776.5,1706.2 789.0,1706.1 799.0,1706.0 C809.0,1705.9 817.8,1705.3 824.0,1706.0 C830.2,1706.7 832.8,1708.8 836.5,1710.0 C840.2,1711.2 842.8,1713.2 846.5,1713.0 C850.2,1712.8 854.0,1709.0 859.0,1708.5 C864.0,1708.0 871.5,1710.4 876.5,1710.0 C881.5,1709.6 881.1,1706.8 889.0,1706.0 C896.9,1705.2 912.3,1705.4 924.0,1705.5 C935.7,1705.6 943.3,1706.2 959.0,1706.5 C974.7,1706.8 999.8,1707.2 1018.0,1707.5 C1036.2,1707.8 1056.8,1707.5 1068.0,1708.5 C1079.2,1709.5 1077.2,1713.5 1085.5,1713.5 C1093.8,1713.5 1104.2,1708.9 1118.0,1708.5 C1131.8,1708.1 1149.7,1710.8 1168.0,1711.0 C1186.3,1711.2 1209.7,1710.2 1228.0,1710.0 C1246.3,1709.8 1261.8,1709.9 1278.0,1710.0 C1294.2,1710.1 1314.7,1709.0 1325.5,1710.5 C1336.3,1712.0 1335.9,1717.2 1343.0,1719.0 C1350.1,1720.8 1360.1,1719.6 1368.0,1721.0 C1375.9,1722.4 1384.2,1724.8 1390.5,1727.5 C1396.8,1730.2 1400.9,1734.8 1405.5,1737.5 C1410.1,1740.2 1413.4,1743.2 1418.0,1744.0 C1422.6,1744.8 1427.2,1742.8 1433.0,1742.0 C1438.8,1741.2 1444.2,1739.9 1453.0,1739.0 C1461.8,1738.1 1476.3,1736.3 1485.5,1736.5 C1494.7,1736.7 1500.9,1739.2 1508.0,1740.0 C1515.1,1740.8 1521.4,1739.5 1528.0,1741.0 C1534.6,1742.5 1542.2,1746.2 1547.5,1748.8 C1552.8,1751.3 1555.6,1753.8 1560.0,1756.2 C1564.4,1758.8 1569.6,1762.1 1573.8,1763.8 C1577.9,1765.4 1581.0,1766.2 1585.0,1766.2 C1589.0,1766.2 1592.5,1763.5 1597.5,1763.8 C1602.5,1764.0 1610.4,1765.6 1615.0,1767.5 C1619.6,1769.4 1621.9,1772.9 1625.0,1775.0 C1628.1,1777.1 1630.8,1779.2 1633.8,1780.0 C1636.7,1780.8 1639.0,1781.7 1642.5,1780.0 C1646.0,1778.3 1651.2,1772.7 1655.0,1770.0 C1658.8,1767.3 1660.4,1765.6 1665.0,1763.8 C1669.6,1761.9 1677.1,1759.4 1682.5,1758.8 C1687.9,1758.1 1692.9,1760.2 1697.5,1760.0 C1702.1,1759.8 1705.4,1756.7 1710.0,1757.5 C1714.6,1758.3 1720.2,1763.3 1725.0,1765.0 C1729.8,1766.7 1734.2,1765.6 1738.8,1767.5 C1743.3,1769.4 1748.5,1774.7 1752.5,1776.2 C1756.5,1777.8 1758.8,1775.3 1762.5,1776.8 C1766.2,1778.2 1771.2,1783.0 1775.0,1785.0 C1778.8,1787.0 1781.5,1790.0 1785.0,1788.8 C1788.5,1787.5 1793.8,1779.0 1796.2,1777.5 C1798.8,1776.0 1798.5,1777.5 1800.0,1780.0 C1801.5,1782.5 1802.7,1789.2 1805.0,1792.5 C1807.3,1795.8 1811.9,1797.5 1813.8,1800.0 C1815.6,1802.5 1815.2,1802.9 1816.2,1807.5 C1817.3,1812.1 1819.4,1824.2 1820.0,1827.5" fill="none" stroke="#f03c46" stroke-width="4.70" stroke-linejoin="round" stroke-linecap="round"/>
<path d="M396.5,1846.0 C397.8,1845.2 400.2,1840.8 404.0,1841.0 C407.8,1841.2 414.4,1847.2 419.0,1847.5 C423.6,1847.8 426.9,1842.5 431.5,1842.5 C436.1,1842.5 441.9,1845.8 446.5,1847.5 C451.1,1849.2 455.2,1852.9 459.0,1852.5 C462.8,1852.1 465.7,1845.6 469.0,1845.0 C472.3,1844.4 475.7,1849.2 479.0,1849.0 C482.3,1848.8 484.8,1843.1 489.0,1843.5 C493.2,1843.9 499.0,1851.4 504.0,1851.5 C509.0,1851.6 514.0,1844.0 519.0,1844.0 C524.0,1844.0 529.4,1850.1 534.0,1851.5 C538.6,1852.9 542.3,1851.1 546.5,1852.5 C550.7,1853.9 554.8,1857.7 559.0,1860.0 C563.2,1862.3 567.3,1866.2 571.5,1866.5 C575.7,1866.8 579.4,1861.6 584.0,1861.5 C588.6,1861.4 594.0,1864.8 599.0,1866.0 C604.0,1867.2 608.6,1867.6 614.0,1868.5 C619.4,1869.4 625.7,1872.1 631.5,1871.5 C637.3,1870.9 642.8,1866.8 649.0,1865.0 C655.2,1863.2 662.8,1861.2 669.0,1861.0 C675.2,1860.8 680.7,1864.4 686.5,1864.0 C692.3,1863.6 698.6,1859.6 704.0,1858.5 C709.4,1857.4 714.8,1857.1 719.0,1857.5 C723.2,1857.9 725.2,1861.4 729.0,1861.0 C732.8,1860.6 735.7,1856.0 741.5,1855.0 C747.3,1854.0 757.3,1856.2 764.0,1855.0 C770.7,1853.8 775.7,1848.8 781.5,1847.5 C787.3,1846.2 792.3,1845.2 799.0,1847.5 C805.7,1849.8 814.0,1860.2 821.5,1861.0 C829.0,1861.8 837.3,1853.2 844.0,1852.5 C850.7,1851.8 855.7,1857.5 861.5,1856.5 C867.3,1855.5 872.8,1847.6 879.0,1846.5 C885.2,1845.4 891.5,1849.8 899.0,1850.0 C906.5,1850.2 915.7,1848.2 924.0,1847.5 C932.3,1846.8 939.8,1845.8 949.0,1846.0 C958.2,1846.2 967.5,1848.4 979.0,1848.5 C990.5,1848.6 1008.2,1846.4 1018.0,1846.5 C1027.8,1846.6 1031.3,1848.8 1038.0,1849.0 C1044.7,1849.2 1050.5,1847.2 1058.0,1847.5 C1065.5,1847.8 1073.0,1850.6 1083.0,1851.0 C1093.0,1851.4 1105.5,1850.4 1118.0,1850.0 C1130.5,1849.6 1145.5,1848.5 1158.0,1848.5 C1170.5,1848.5 1180.5,1849.3 1193.0,1850.0 C1205.5,1850.7 1218.8,1852.2 1233.0,1852.5 C1247.2,1852.8 1265.9,1851.5 1278.0,1851.5 C1290.1,1851.5 1296.3,1851.8 1305.5,1852.5 C1314.7,1853.2 1325.5,1853.9 1333.0,1856.0 C1340.5,1858.1 1344.7,1862.7 1350.5,1865.0 C1356.3,1867.3 1362.2,1868.5 1368.0,1870.0 C1373.8,1871.5 1380.1,1873.6 1385.5,1874.0 C1390.9,1874.4 1394.7,1870.7 1400.5,1872.5 C1406.3,1874.3 1413.4,1883.3 1420.5,1885.0 C1427.6,1886.7 1434.7,1883.8 1443.0,1882.5 C1451.3,1881.2 1462.6,1877.5 1470.5,1877.5 C1478.4,1877.5 1483.8,1882.9 1490.5,1882.5 C1497.2,1882.1 1503.8,1876.0 1510.5,1875.0 C1517.2,1874.0 1524.3,1873.8 1530.5,1876.5 C1536.7,1879.2 1542.0,1887.3 1547.5,1891.2 C1553.0,1895.2 1559.2,1898.5 1563.8,1900.0 C1568.3,1901.5 1571.0,1900.6 1575.0,1900.5 C1579.0,1900.4 1582.9,1899.3 1587.5,1899.2 C1592.1,1899.2 1598.8,1899.0 1602.5,1900.0 C1606.2,1901.0 1606.9,1901.5 1610.0,1905.0 C1613.1,1908.5 1617.7,1917.6 1621.2,1921.2 C1624.8,1924.9 1628.1,1926.8 1631.2,1927.0 C1634.4,1927.2 1636.5,1925.1 1640.0,1922.5 C1643.5,1919.9 1648.8,1913.8 1652.5,1911.2 C1656.2,1908.8 1658.8,1909.3 1662.5,1907.5 C1666.2,1905.7 1671.7,1901.3 1675.0,1900.5 C1678.3,1899.7 1680.0,1901.0 1682.5,1902.5 C1685.0,1904.0 1685.4,1908.7 1690.0,1909.5 C1694.6,1910.3 1704.2,1906.6 1710.0,1907.5 C1715.8,1908.4 1719.6,1912.3 1725.0,1915.0 C1730.4,1917.7 1736.7,1921.2 1742.5,1923.8 C1748.3,1926.2 1755.6,1929.0 1760.0,1930.0 C1764.4,1931.0 1766.2,1928.3 1768.8,1930.0 C1771.2,1931.7 1772.9,1936.0 1775.0,1940.0 C1777.1,1944.0 1779.0,1952.3 1781.2,1953.8 C1783.5,1955.2 1786.7,1946.9 1788.8,1948.8 C1790.8,1950.6 1792.1,1959.2 1793.8,1965.0 C1795.4,1970.8 1797.1,1982.5 1798.8,1983.8 C1800.4,1985.0 1801.9,1978.1 1803.8,1972.5 C1805.6,1966.9 1808.1,1953.8 1810.0,1950.0 C1811.9,1946.2 1813.8,1953.8 1815.0,1950.0 C1816.2,1946.2 1816.2,1932.3 1817.0,1927.5 C1817.8,1922.7 1819.5,1922.3 1820.0,1921.2" fill="none" stroke="#9b3cff" stroke-width="4.70" stroke-linejoin="round" stroke-linecap="round"/>
<path d="M399.0,1929.0 C400.2,1928.2 402.8,1924.5 406.5,1924.0 C410.2,1923.5 416.5,1926.1 421.5,1926.0 C426.5,1925.9 430.2,1923.9 436.5,1923.5 C442.8,1923.1 453.2,1923.1 459.0,1923.5 C464.8,1923.9 466.9,1926.4 471.5,1926.0 C476.1,1925.6 481.5,1921.6 486.5,1921.0 C491.5,1920.4 496.1,1923.0 501.5,1922.5 C506.9,1922.0 514.0,1918.2 519.0,1918.0 C524.0,1917.8 527.3,1917.8 531.5,1921.0 C535.7,1924.2 539.4,1929.8 544.0,1937.5 C548.6,1945.2 554.0,1961.2 559.0,1967.5 C564.0,1973.8 569.0,1971.9 574.0,1975.0 C579.0,1978.1 584.8,1983.2 589.0,1986.0 C593.2,1988.8 594.8,1990.7 599.0,1991.5 C603.2,1992.3 608.2,1989.2 614.0,1991.0 C619.8,1992.8 627.3,2000.0 634.0,2002.5 C640.7,2005.0 647.8,2004.8 654.0,2006.0 C660.2,2007.2 666.5,2009.3 671.5,2010.0 C676.5,2010.7 678.6,2010.8 684.0,2010.0 C689.4,2009.2 695.7,2006.8 704.0,2005.0 C712.3,2003.2 725.2,2000.9 734.0,1999.0 C742.8,1997.1 748.2,1997.2 756.5,1993.5 C764.8,1989.8 776.1,1980.2 784.0,1976.5 C791.9,1972.8 797.3,1973.6 804.0,1971.5 C810.7,1969.4 817.3,1967.4 824.0,1964.0 C830.7,1960.6 838.2,1953.6 844.0,1951.0 C849.8,1948.4 852.3,1948.9 859.0,1948.5 C865.7,1948.1 875.7,1949.3 884.0,1948.5 C892.3,1947.7 900.7,1945.1 909.0,1943.5 C917.3,1941.9 925.7,1940.8 934.0,1939.0 C942.3,1937.2 951.5,1933.8 959.0,1932.5 C966.5,1931.2 971.9,1931.6 979.0,1931.0 C986.1,1930.4 995.0,1929.2 1001.5,1929.0 C1008.0,1928.8 1011.1,1930.1 1018.0,1930.0 C1024.9,1929.9 1034.7,1929.6 1043.0,1928.5 C1051.3,1927.4 1060.5,1924.3 1068.0,1923.5 C1075.5,1922.7 1080.5,1924.3 1088.0,1923.5 C1095.5,1922.7 1104.7,1919.3 1113.0,1918.5 C1121.3,1917.7 1131.3,1918.0 1138.0,1918.5 C1144.7,1919.0 1147.2,1921.7 1153.0,1921.5 C1158.8,1921.3 1166.8,1918.8 1173.0,1917.5 C1179.2,1916.2 1183.8,1913.4 1190.5,1913.5 C1197.2,1913.6 1200.1,1917.2 1213.0,1918.0 C1225.9,1918.8 1253.8,1915.8 1268.0,1918.0 C1282.2,1920.2 1288.0,1926.2 1298.0,1931.5 C1308.0,1936.8 1319.7,1944.2 1328.0,1950.0 C1336.3,1955.8 1341.8,1963.3 1348.0,1966.0 C1354.2,1968.7 1359.0,1963.5 1365.5,1966.0 C1372.0,1968.5 1381.6,1980.3 1387.0,1981.0 C1392.4,1981.7 1393.7,1978.5 1398.0,1970.0 C1402.3,1961.5 1408.0,1937.8 1413.0,1930.0 C1418.0,1922.2 1421.3,1922.7 1428.0,1923.5 C1434.7,1924.3 1444.7,1928.9 1453.0,1935.0 C1461.3,1941.1 1470.5,1953.8 1478.0,1960.0 C1485.5,1966.2 1491.3,1969.2 1498.0,1972.5 C1504.7,1975.8 1511.8,1976.9 1518.0,1980.0 C1524.2,1983.1 1530.5,1987.1 1535.0,1991.2 C1539.5,1995.4 1541.7,1997.7 1545.0,2005.0 C1548.3,2012.3 1552.1,2025.8 1555.0,2035.0 C1557.9,2044.2 1559.6,2053.8 1562.5,2060.0 C1565.4,2066.2 1569.6,2070.3 1572.5,2072.0 C1575.4,2073.7 1577.3,2072.0 1580.0,2070.0 C1582.7,2068.0 1585.4,2063.5 1588.8,2060.0 C1592.1,2056.5 1596.5,2050.3 1600.0,2049.2 C1603.5,2048.2 1606.7,2050.7 1610.0,2053.8 C1613.3,2056.8 1617.1,2063.1 1620.0,2067.5 C1622.9,2071.9 1625.2,2076.8 1627.5,2080.0 C1629.8,2083.2 1631.7,2087.4 1633.8,2087.0 C1635.8,2086.6 1636.9,2083.5 1640.0,2077.5 C1643.1,2071.5 1648.5,2057.9 1652.5,2051.2 C1656.5,2044.6 1660.0,2042.7 1663.8,2037.5 C1667.5,2032.3 1671.9,2024.2 1675.0,2020.0 C1678.1,2015.8 1679.8,2012.1 1682.5,2012.5 C1685.2,2012.9 1688.1,2017.9 1691.2,2022.5 C1694.4,2027.1 1697.3,2037.1 1701.2,2040.0 C1705.2,2042.9 1710.6,2039.2 1715.0,2040.0 C1719.4,2040.8 1723.5,2043.3 1727.5,2045.0 C1731.5,2046.7 1735.4,2046.7 1738.8,2050.0 C1742.1,2053.3 1744.8,2059.6 1747.5,2065.0 C1750.2,2070.4 1752.1,2077.9 1755.0,2082.5 C1757.9,2087.1 1761.5,2088.8 1765.0,2092.5 C1768.5,2096.2 1773.3,2100.0 1776.2,2105.0 C1779.2,2110.0 1780.6,2113.8 1782.5,2122.5 C1784.4,2131.2 1786.0,2144.6 1787.5,2157.5 C1789.0,2170.4 1790.0,2184.2 1791.2,2200.0 C1792.5,2215.8 1793.5,2238.8 1795.0,2252.5 C1796.5,2266.2 1798.3,2275.4 1800.0,2282.5 C1801.7,2289.6 1803.1,2295.4 1805.0,2295.0 C1806.9,2294.6 1809.2,2286.2 1811.2,2280.0 C1813.3,2273.8 1816.0,2267.7 1817.5,2257.5 C1819.0,2247.3 1819.6,2225.2 1820.0,2218.8" fill="none" stroke="#383838" stroke-width="3.00" stroke-linejoin="round" stroke-linecap="round"/>
<rect x="382.5" y="1340.5" width="1473.0" height="4.0" fill="#000"/>
<rect x="382.5" y="1340.5" width="4.0" height="1002.0" fill="#000"/>
<rect x="1831.5" y="1340.5" width="4.0" height="1002.0" fill="#000"/>
<rect x="382.5" y="2338.5" width="1473.0" height="4.0" fill="#000"/>
<line x1="1833.5" y1="1378.2" x2="1843.5" y2="1378.2" stroke="#000" stroke-width="3.50"/>
<line x1="1833.5" y1="1413.8" x2="1854.5" y2="1413.8" stroke="#000" stroke-width="3.50"/>
<line x1="1833.5" y1="1449.5" x2="1843.5" y2="1449.5" stroke="#000" stroke-width="3.50"/>
<line x1="1833.5" y1="1485.1" x2="1854.5" y2="1485.1" stroke="#000" stroke-width="3.50"/>
<line x1="1833.5" y1="1520.8" x2="1843.5" y2="1520.8" stroke="#000" stroke-width="3.50"/>
<line x1="1833.5" y1="1556.4" x2="1854.5" y2="1556.4" stroke="#000" stroke-width="3.50"/>
<line x1="1833.5" y1="1592.0" x2="1843.5" y2="1592.0" stroke="#000" stroke-width="3.50"/>
<line x1="1833.5" y1="1627.7" x2="1854.5" y2="1627.7" stroke="#000" stroke-width="3.50"/>
<line x1="1833.5" y1="1663.3" x2="1843.5" y2="1663.3" stroke="#000" stroke-width="3.50"/>
<line x1="1833.5" y1="1699.0" x2="1854.5" y2="1699.0" stroke="#000" stroke-width="3.50"/>
<line x1="1833.5" y1="1734.7" x2="1843.5" y2="1734.7" stroke="#000" stroke-width="3.50"/>
<line x1="1833.5" y1="1770.3" x2="1854.5" y2="1770.3" stroke="#000" stroke-width="3.50"/>
<line x1="1833.5" y1="1806.0" x2="1843.5" y2="1806.0" stroke="#000" stroke-width="3.50"/>
<line x1="1833.5" y1="1841.6" x2="1854.5" y2="1841.6" stroke="#000" stroke-width="3.50"/>
<line x1="1833.5" y1="1877.2" x2="1843.5" y2="1877.2" stroke="#000" stroke-width="3.50"/>
<line x1="1833.5" y1="1912.9" x2="1854.5" y2="1912.9" stroke="#000" stroke-width="3.50"/>
<line x1="1833.5" y1="1948.5" x2="1843.5" y2="1948.5" stroke="#000" stroke-width="3.50"/>
<line x1="1833.5" y1="1984.2" x2="1854.5" y2="1984.2" stroke="#000" stroke-width="3.50"/>
<line x1="1833.5" y1="2019.8" x2="1843.5" y2="2019.8" stroke="#000" stroke-width="3.50"/>
<line x1="1833.5" y1="2055.5" x2="1854.5" y2="2055.5" stroke="#000" stroke-width="3.50"/>
<line x1="1833.5" y1="2091.2" x2="1843.5" y2="2091.2" stroke="#000" stroke-width="3.50"/>
<line x1="1833.5" y1="2126.8" x2="1854.5" y2="2126.8" stroke="#000" stroke-width="3.50"/>
<line x1="1833.5" y1="2162.4" x2="1843.5" y2="2162.4" stroke="#000" stroke-width="3.50"/>
<line x1="1833.5" y1="2198.1" x2="1854.5" y2="2198.1" stroke="#000" stroke-width="3.50"/>
<line x1="1833.5" y1="2233.8" x2="1843.5" y2="2233.8" stroke="#000" stroke-width="3.50"/>
<line x1="1833.5" y1="2269.4" x2="1854.5" y2="2269.4" stroke="#000" stroke-width="3.50"/>
<line x1="1833.5" y1="2305.1" x2="1843.5" y2="2305.1" stroke="#000" stroke-width="3.50"/>
<line x1="398.7" y1="2340.0" x2="398.7" y2="2358.0" stroke="#000" stroke-width="3.50"/>
<line x1="503.1" y1="2340.0" x2="503.1" y2="2349.0" stroke="#000" stroke-width="3.50"/>
<line x1="607.5" y1="2340.0" x2="607.5" y2="2358.0" stroke="#000" stroke-width="3.50"/>
<line x1="711.8" y1="2340.0" x2="711.8" y2="2349.0" stroke="#000" stroke-width="3.50"/>
<line x1="816.2" y1="2340.0" x2="816.2" y2="2358.0" stroke="#000" stroke-width="3.50"/>
<line x1="920.6" y1="2340.0" x2="920.6" y2="2349.0" stroke="#000" stroke-width="3.50"/>
<line x1="1025.0" y1="2340.0" x2="1025.0" y2="2358.0" stroke="#000" stroke-width="3.50"/>
<line x1="1129.3" y1="2340.0" x2="1129.3" y2="2349.0" stroke="#000" stroke-width="3.50"/>
<line x1="1233.7" y1="2340.0" x2="1233.7" y2="2358.0" stroke="#000" stroke-width="3.50"/>
<line x1="1338.1" y1="2340.0" x2="1338.1" y2="2349.0" stroke="#000" stroke-width="3.50"/>
<line x1="1442.5" y1="2340.0" x2="1442.5" y2="2358.0" stroke="#000" stroke-width="3.50"/>
<line x1="1546.8" y1="2340.0" x2="1546.8" y2="2349.0" stroke="#000" stroke-width="3.50"/>
<line x1="1651.2" y1="2340.0" x2="1651.2" y2="2358.0" stroke="#000" stroke-width="3.50"/>
<line x1="1755.6" y1="2340.0" x2="1755.6" y2="2349.0" stroke="#000" stroke-width="3.50"/>
<text transform="translate(346.09,2403.30) scale(1.1530,1)" font-size="40.40" fill="#000">4000</text>
<text transform="translate(554.49,2403.30) scale(1.1530,1)" font-size="40.40" fill="#000">3500</text>
<text transform="translate(763.24,2403.30) scale(1.1530,1)" font-size="40.40" fill="#000">3000</text>
<text transform="translate(971.70,2403.30) scale(1.1530,1)" font-size="40.40" fill="#000">2500</text>
<text transform="translate(1180.45,2403.30) scale(1.1530,1)" font-size="40.40" fill="#000">2000</text>
<text transform="translate(1388.61,2403.30) scale(1.1530,1)" font-size="40.40" fill="#000">1500</text>
<text transform="translate(1597.36,2403.30) scale(1.1530,1)" font-size="40.40" fill="#000">1000</text>
<rect x="948.8" y="1977.1" width="318.9" height="229.9" fill="#fff" stroke="#8a8a8a" stroke-width="1.6"/>
<line x1="965.0" y1="1999.3" x2="1046.5" y2="1999.3" stroke="#383838" stroke-width="3.00" stroke-linecap="round"/>
<line x1="965.0" y1="2040.9" x2="1046.5" y2="2040.9" stroke="#2eaa64" stroke-width="4.20" stroke-linecap="round"/>
<line x1="965.0" y1="2085.1" x2="1046.5" y2="2085.1" stroke="#1a66e0" stroke-width="4.20" stroke-linecap="round"/>
<line x1="965.0" y1="2129.4" x2="1046.5" y2="2129.4" stroke="#f03c46" stroke-width="4.20" stroke-linecap="round"/>
<line x1="965.0" y1="2173.6" x2="1046.5" y2="2173.6" stroke="#9b3cff" stroke-width="4.20" stroke-linecap="round"/>
<text transform="translate(1058.95,2010.00) scale(1.1500,1)" font-size="30.50" fill="#000">GO</text>
<text transform="translate(1055.8,2050.3) scale(1.150,1)" font-size="30.5">rGO/CNF <tspan font-size="19.5" dy="8.6">50</tspan></text>
<text transform="translate(1055.8,2094.5) scale(1.150,1)" font-size="30.5">rGO/CNF <tspan font-size="19.5" dy="8.6">25</tspan></text>
<text transform="translate(1055.8,2138.8) scale(1.150,1)" font-size="30.5">rGO/CNF<tspan font-size="19.5" dy="8.6">15</tspan></text>
<text transform="translate(1055.8,2183.0) scale(1.150,1)" font-size="30.5">rGO/CNF<tspan font-size="19.5" dy="8.6">5</tspan></text>
<text transform="translate(655.23,2102.99) scale(1.1214,1) rotate(-90)" font-size="23.82" fill="#111">3335</text>
<rect x="1329.9" y="2015.3" width="27.5" height="57.4" fill="#fff"/><text transform="translate(1353.12,2070.46) scale(1.1772,1) rotate(-90)" font-size="23.41" fill="#111">1730</text>
<rect x="1373.9" y="2017.5" width="27.6" height="56.7" fill="#fff"/><text transform="translate(1397.22,2071.94) scale(1.1932,1) rotate(-90)" font-size="23.22" fill="#111">1632</text>
<text transform="translate(1445.44,2069.73) scale(1.1168,1) rotate(-90)" font-size="23.03" fill="#111">1530</text>
<rect x="1561.0" y="2080.2" width="28.3" height="56.0" fill="#fff"/><text transform="translate(1585.01,2133.96) scale(1.2239,1) rotate(-90)" font-size="23.44" fill="#111">1194</text>
<rect x="1624.4" y="2103.2" width="27.8" height="56.4" fill="#fff"/><text transform="translate(1647.92,2157.32) scale(1.2200,1) rotate(-90)" font-size="22.94" fill="#111">1050</text>
<text transform="translate(330.60,2039.52) scale(1.1600,1) rotate(-90)" font-size="49.80" fill="#000">Transmittance (a.u.)</text>
<text transform="translate(876.51,2485.00) scale(1.1510,1)" font-size="50.00" fill="#000">Wavelength (cm</text>
<text transform="translate(1288.40,2465.81) scale(1.1493,1)" font-size="38.71" fill="#000">-</text>
<text transform="translate(1304.34,2464.50) scale(0.7644,1)" font-size="34.18" fill="#000">1</text>
<text transform="translate(1327.17,2485.00) scale(1.1510,1)" font-size="50.00" fill="#000">)</text>
<text transform="translate(17.72,2524.38)" font-size="84.0" style="font-family:'Liberation Serif',serif">(<tspan font-weight="bold">b</tspan>)</text>
<line x1="1472.0" y1="2651.0" x2="1472.0" y2="3687.0" stroke="#8c8c8c" stroke-width="1.30" stroke-dasharray="7,5"/>
<line x1="1716.0" y1="2651.0" x2="1716.0" y2="3687.0" stroke="#8c8c8c" stroke-width="1.30" stroke-dasharray="7,5"/>
<line x1="1808.4" y1="2651.0" x2="1808.4" y2="3687.0" stroke="#8c8c8c" stroke-width="1.30" stroke-dasharray="7,5"/>
<path d="M477.0,2769.0 C478.7,2768.8 482.0,2767.3 487.0,2767.5 C492.0,2767.7 499.5,2770.2 507.0,2770.0 C514.5,2769.8 522.8,2766.8 532.0,2766.5 C541.2,2766.2 552.0,2767.2 562.0,2768.5 C572.0,2769.8 583.7,2773.2 592.0,2774.0 C600.3,2774.8 605.3,2772.6 612.0,2773.0 C618.7,2773.4 623.7,2775.3 632.0,2776.5 C640.3,2777.7 652.8,2779.0 662.0,2780.0 C671.2,2781.0 678.7,2781.2 687.0,2782.5 C695.3,2783.8 702.8,2785.9 712.0,2787.5 C721.2,2789.1 732.0,2790.9 742.0,2792.0 C752.0,2793.1 760.3,2793.2 772.0,2794.0 C783.7,2794.8 798.7,2795.7 812.0,2796.5 C825.3,2797.3 837.8,2798.8 852.0,2799.0 C866.2,2799.2 885.3,2797.4 897.0,2798.0 C908.7,2798.6 911.2,2801.7 922.0,2802.5 C932.8,2803.3 950.3,2803.0 962.0,2803.0 C973.7,2803.0 980.3,2802.2 992.0,2802.5 C1003.7,2802.8 1020.3,2804.8 1032.0,2805.0 C1043.7,2805.2 1051.3,2803.5 1062.0,2804.0 C1072.7,2804.5 1085.3,2807.4 1096.0,2808.0 C1106.7,2808.6 1116.0,2807.2 1126.0,2807.5 C1136.0,2807.8 1148.5,2810.0 1156.0,2810.0 C1163.5,2810.0 1164.3,2807.2 1171.0,2807.5 C1177.7,2807.8 1186.8,2810.4 1196.0,2811.5 C1205.2,2812.6 1212.7,2813.2 1226.0,2814.0 C1239.3,2814.8 1259.3,2816.1 1276.0,2816.5 C1292.7,2816.9 1309.3,2816.3 1326.0,2816.5 C1342.7,2816.7 1363.1,2817.3 1376.0,2817.5 C1388.9,2817.7 1395.6,2815.4 1403.5,2817.5 C1411.4,2819.6 1416.4,2827.9 1423.5,2830.0 C1430.6,2832.1 1438.9,2828.8 1446.0,2830.0 C1453.1,2831.2 1460.6,2835.0 1466.0,2837.5 C1471.4,2840.0 1473.9,2841.7 1478.5,2845.0 C1483.1,2848.3 1488.9,2855.2 1493.5,2857.5 C1498.1,2859.8 1499.8,2859.3 1506.0,2858.5 C1512.2,2857.7 1521.8,2853.8 1531.0,2852.5 C1540.2,2851.2 1552.7,2850.4 1561.0,2851.0 C1569.3,2851.6 1574.5,2854.7 1581.0,2856.0 C1587.5,2857.3 1595.2,2857.9 1600.0,2858.8 C1604.8,2859.6 1606.7,2859.6 1610.0,2861.2 C1613.3,2862.9 1616.2,2865.4 1620.0,2868.8 C1623.8,2872.1 1627.9,2877.7 1632.5,2881.2 C1637.1,2884.8 1642.5,2887.4 1647.5,2890.0 C1652.5,2892.6 1658.1,2896.4 1662.5,2897.0 C1666.9,2897.6 1670.0,2893.0 1673.8,2893.8 C1677.5,2894.5 1681.7,2899.6 1685.0,2901.2 C1688.3,2902.9 1690.8,2900.8 1693.8,2903.8 C1696.7,2906.7 1699.0,2915.0 1702.5,2918.8 C1706.0,2922.5 1711.2,2926.0 1715.0,2926.2 C1718.8,2926.5 1720.8,2924.0 1725.0,2920.0 C1729.2,2916.0 1733.8,2907.5 1740.0,2902.5 C1746.2,2897.5 1756.7,2891.9 1762.5,2890.0 C1768.3,2888.1 1770.4,2891.5 1775.0,2891.2 C1779.6,2891.0 1785.8,2887.8 1790.0,2888.2 C1794.2,2888.7 1796.2,2893.0 1800.0,2893.8 C1803.8,2894.5 1808.5,2892.9 1812.5,2892.5 C1816.5,2892.1 1819.8,2888.1 1823.8,2891.2 C1827.7,2894.4 1831.9,2906.7 1836.2,2911.2 C1840.6,2915.8 1846.5,2916.5 1850.0,2918.8 C1853.5,2921.0 1854.8,2923.0 1857.5,2925.0 C1860.2,2927.0 1863.8,2926.3 1866.2,2930.5 C1868.8,2934.7 1870.2,2940.7 1872.5,2950.0 C1874.8,2959.3 1877.5,2983.8 1880.0,2986.2 C1882.5,2988.8 1885.4,2974.0 1887.5,2965.0 C1889.6,2956.0 1891.0,2938.5 1892.5,2932.5 C1894.0,2926.5 1895.6,2929.4 1896.2,2928.8" fill="none" stroke="#8a8a8a" stroke-width="3.30" stroke-linejoin="round" stroke-linecap="round"/>
<path d="M474.5,3077.5 C477.4,3077.7 486.2,3078.9 492.0,3078.5 C497.8,3078.1 503.7,3074.9 509.5,3075.0 C515.3,3075.1 520.3,3078.6 527.0,3079.0 C533.7,3079.4 542.4,3076.9 549.5,3077.5 C556.6,3078.1 563.2,3082.5 569.5,3082.5 C575.8,3082.5 582.0,3077.2 587.0,3077.5 C592.0,3077.8 595.3,3083.2 599.5,3084.0 C603.7,3084.8 606.6,3081.3 612.0,3082.5 C617.4,3083.7 625.3,3089.1 632.0,3091.0 C638.7,3092.9 646.2,3093.5 652.0,3094.0 C657.8,3094.5 660.3,3093.0 667.0,3094.0 C673.7,3095.0 684.1,3099.2 692.0,3100.0 C699.9,3100.8 706.2,3099.8 714.5,3099.0 C722.8,3098.2 734.1,3096.5 742.0,3095.0 C749.9,3093.5 753.7,3091.0 762.0,3090.0 C770.3,3089.0 783.7,3089.8 792.0,3089.0 C800.3,3088.2 804.5,3085.9 812.0,3085.0 C819.5,3084.1 829.5,3083.5 837.0,3083.5 C844.5,3083.5 851.2,3085.4 857.0,3085.0 C862.8,3084.6 865.3,3082.0 872.0,3081.0 C878.7,3080.0 889.1,3079.3 897.0,3079.0 C904.9,3078.7 913.7,3078.2 919.5,3079.0 C925.3,3079.8 924.9,3083.0 932.0,3083.5 C939.1,3084.0 952.8,3082.1 962.0,3082.0 C971.2,3081.9 979.5,3083.0 987.0,3083.0 C994.5,3083.0 999.5,3082.7 1007.0,3082.0 C1014.5,3081.3 1024.5,3079.3 1032.0,3079.0 C1039.5,3078.7 1044.9,3079.2 1052.0,3080.0 C1059.1,3080.8 1067.2,3083.3 1074.5,3083.5 C1081.8,3083.7 1089.1,3081.2 1096.0,3081.0 C1102.9,3080.8 1108.9,3082.8 1116.0,3082.5 C1123.1,3082.2 1132.7,3079.6 1138.5,3079.5 C1144.3,3079.4 1146.4,3080.5 1151.0,3082.0 C1155.6,3083.5 1161.0,3087.8 1166.0,3088.5 C1171.0,3089.2 1176.0,3087.2 1181.0,3086.0 C1186.0,3084.8 1188.5,3081.8 1196.0,3081.0 C1203.5,3080.2 1216.8,3081.7 1226.0,3081.5 C1235.2,3081.3 1237.7,3080.2 1251.0,3080.0 C1264.3,3079.8 1293.5,3080.8 1306.0,3080.5 C1318.5,3080.2 1317.7,3078.0 1326.0,3078.0 C1334.3,3078.0 1346.0,3080.2 1356.0,3080.5 C1366.0,3080.8 1376.0,3079.8 1386.0,3080.0 C1396.0,3080.2 1406.8,3081.0 1416.0,3082.0 C1425.2,3083.0 1433.5,3084.2 1441.0,3086.0 C1448.5,3087.8 1454.3,3091.8 1461.0,3092.5 C1467.7,3093.2 1471.8,3090.4 1481.0,3090.0 C1490.2,3089.6 1507.7,3090.4 1516.0,3090.0 C1524.3,3089.6 1526.0,3087.2 1531.0,3087.5 C1536.0,3087.8 1540.6,3091.8 1546.0,3091.5 C1551.4,3091.2 1556.8,3086.2 1563.5,3085.5 C1570.2,3084.8 1577.4,3087.2 1586.0,3087.5 C1594.6,3087.8 1606.0,3087.6 1615.0,3087.0 C1624.0,3086.4 1632.5,3083.9 1640.0,3083.8 C1647.5,3083.6 1654.2,3084.7 1660.0,3086.2 C1665.8,3087.8 1670.0,3091.3 1675.0,3093.0 C1680.0,3094.7 1685.8,3094.7 1690.0,3096.2 C1694.2,3097.8 1696.7,3100.7 1700.0,3102.5 C1703.3,3104.3 1707.1,3107.0 1710.0,3107.0 C1712.9,3107.0 1713.8,3105.5 1717.5,3102.5 C1721.2,3099.5 1727.9,3092.6 1732.5,3088.8 C1737.1,3084.9 1740.4,3080.5 1745.0,3079.5 C1749.6,3078.5 1755.0,3082.9 1760.0,3082.5 C1765.0,3082.1 1770.0,3077.6 1775.0,3077.0 C1780.0,3076.4 1785.4,3077.2 1790.0,3078.8 C1794.6,3080.3 1799.6,3085.4 1802.5,3086.2 C1805.4,3087.1 1805.2,3085.6 1807.5,3083.8 C1809.8,3081.9 1814.0,3075.8 1816.2,3075.0 C1818.5,3074.2 1819.6,3076.5 1821.2,3078.8 C1822.9,3081.0 1824.4,3086.4 1826.2,3088.8 C1828.1,3091.1 1830.2,3093.1 1832.5,3093.0 C1834.8,3092.9 1837.1,3088.9 1840.0,3088.0 C1842.9,3087.1 1846.2,3085.9 1850.0,3087.5 C1853.8,3089.1 1859.6,3092.9 1862.5,3097.5 C1865.4,3102.1 1865.8,3105.8 1867.5,3115.0 C1869.2,3124.2 1871.0,3143.3 1872.5,3152.5 C1874.0,3161.7 1875.0,3170.4 1876.2,3170.0 C1877.5,3169.6 1878.8,3161.7 1880.0,3150.0 C1881.2,3138.3 1882.5,3116.7 1883.8,3100.0 C1885.0,3083.3 1886.2,3062.9 1887.5,3050.0 C1888.8,3037.1 1889.8,3029.6 1891.2,3022.5 C1892.7,3015.4 1895.4,3010.0 1896.2,3007.5" fill="none" stroke="#1ea7ff" stroke-width="3.40" stroke-linejoin="round" stroke-linecap="round"/>
<path d="M476.0,3200.0 C478.2,3200.7 485.6,3203.8 489.5,3204.0 C493.4,3204.2 494.9,3201.6 499.5,3201.5 C504.1,3201.4 509.9,3202.5 517.0,3203.5 C524.1,3204.5 536.2,3207.2 542.0,3207.5 C547.8,3207.8 546.2,3205.6 552.0,3205.0 C557.8,3204.4 571.2,3203.8 577.0,3204.0 C582.8,3204.2 583.7,3206.7 587.0,3206.0 C590.3,3205.3 593.2,3201.7 597.0,3200.0 C600.8,3198.3 605.3,3195.3 609.5,3196.0 C613.7,3196.7 618.2,3203.5 622.0,3204.0 C625.8,3204.5 628.2,3199.3 632.0,3199.0 C635.8,3198.7 640.3,3202.2 644.5,3202.0 C648.7,3201.8 653.2,3199.2 657.0,3197.5 C660.8,3195.8 663.7,3191.7 667.0,3191.5 C670.3,3191.3 672.8,3195.5 677.0,3196.5 C681.2,3197.5 687.8,3196.8 692.0,3197.5 C696.2,3198.2 697.8,3200.6 702.0,3201.0 C706.2,3201.4 712.8,3199.5 717.0,3200.0 C721.2,3200.5 723.7,3203.6 727.0,3204.0 C730.3,3204.4 733.7,3201.7 737.0,3202.5 C740.3,3203.3 742.8,3208.2 747.0,3209.0 C751.2,3209.8 757.0,3206.8 762.0,3207.5 C767.0,3208.2 771.6,3212.0 777.0,3213.5 C782.4,3215.0 787.8,3216.2 794.5,3216.5 C801.2,3216.8 810.8,3214.8 817.0,3215.0 C823.2,3215.2 827.0,3218.2 832.0,3217.5 C837.0,3216.8 841.2,3210.8 847.0,3211.0 C852.8,3211.2 860.3,3218.1 867.0,3219.0 C873.7,3219.9 881.2,3217.4 887.0,3216.5 C892.8,3215.6 897.0,3213.5 902.0,3213.5 C907.0,3213.5 912.4,3216.4 917.0,3216.5 C921.6,3216.6 925.3,3213.8 929.5,3214.0 C933.7,3214.2 936.6,3216.8 942.0,3217.5 C947.4,3218.2 955.3,3218.9 962.0,3218.5 C968.7,3218.1 976.6,3215.1 982.0,3215.0 C987.4,3214.9 986.2,3217.4 994.5,3218.0 C1002.8,3218.6 1021.6,3219.0 1032.0,3218.5 C1042.4,3218.0 1050.3,3215.6 1057.0,3215.0 C1063.7,3214.4 1067.0,3214.4 1072.0,3215.0 C1077.0,3215.6 1083.0,3217.9 1087.0,3218.5 C1091.0,3219.1 1089.5,3218.6 1096.0,3218.5 C1102.5,3218.4 1117.7,3218.0 1126.0,3218.0 C1134.3,3218.0 1140.3,3217.5 1146.0,3218.5 C1151.7,3219.5 1155.8,3223.9 1160.0,3224.0 C1164.2,3224.1 1166.7,3219.7 1171.0,3219.0 C1175.3,3218.3 1181.4,3220.7 1186.0,3220.0 C1190.6,3219.3 1191.8,3215.3 1198.5,3215.0 C1205.2,3214.7 1218.9,3218.0 1226.0,3218.0 C1233.1,3218.0 1232.7,3215.2 1241.0,3215.0 C1249.3,3214.8 1265.2,3217.0 1276.0,3217.0 C1286.8,3217.0 1296.0,3214.8 1306.0,3215.0 C1316.0,3215.2 1325.2,3218.3 1336.0,3218.5 C1346.8,3218.7 1361.4,3216.2 1371.0,3216.0 C1380.6,3215.8 1387.0,3218.1 1393.5,3217.5 C1400.0,3216.9 1405.0,3211.8 1410.0,3212.5 C1415.0,3213.2 1417.5,3219.4 1423.5,3221.5 C1429.5,3223.6 1438.9,3223.2 1446.0,3225.0 C1453.1,3226.8 1459.8,3229.4 1466.0,3232.5 C1472.2,3235.6 1476.8,3241.4 1483.5,3243.5 C1490.2,3245.6 1498.1,3245.8 1506.0,3245.0 C1513.9,3244.2 1522.2,3240.8 1531.0,3239.0 C1539.8,3237.2 1551.4,3233.7 1558.5,3234.0 C1565.6,3234.3 1568.1,3240.4 1573.5,3241.0 C1578.9,3241.6 1584.1,3236.6 1591.0,3237.5 C1597.9,3238.4 1608.1,3243.1 1615.0,3246.2 C1621.9,3249.4 1626.7,3253.2 1632.5,3256.2 C1638.3,3259.3 1644.6,3263.5 1650.0,3264.5 C1655.4,3265.5 1659.6,3263.2 1665.0,3262.5 C1670.4,3261.8 1678.8,3259.8 1682.5,3260.0 C1686.2,3260.2 1685.2,3261.7 1687.5,3263.8 C1689.8,3265.8 1693.1,3270.6 1696.2,3272.5 C1699.4,3274.4 1702.7,3273.0 1706.2,3275.0 C1709.8,3277.0 1714.0,3283.9 1717.5,3284.5 C1721.0,3285.1 1723.8,3282.8 1727.5,3278.8 C1731.2,3274.7 1736.2,3265.2 1740.0,3260.0 C1743.8,3254.8 1747.1,3249.7 1750.0,3247.5 C1752.9,3245.3 1754.6,3246.6 1757.5,3247.0 C1760.4,3247.4 1764.4,3249.9 1767.5,3250.0 C1770.6,3250.1 1773.3,3246.9 1776.2,3247.5 C1779.2,3248.1 1782.1,3253.4 1785.0,3253.8 C1787.9,3254.1 1791.2,3248.9 1793.8,3249.5 C1796.2,3250.1 1797.7,3254.1 1800.0,3257.5 C1802.3,3260.9 1805.0,3267.7 1807.5,3270.0 C1810.0,3272.3 1811.7,3272.7 1815.0,3271.2 C1818.3,3269.8 1824.0,3261.5 1827.5,3261.2 C1831.0,3261.0 1833.3,3265.8 1836.2,3270.0 C1839.2,3274.2 1841.9,3282.3 1845.0,3286.2 C1848.1,3290.2 1852.1,3289.4 1855.0,3293.8 C1857.9,3298.1 1860.2,3304.4 1862.5,3312.5 C1864.8,3320.6 1867.2,3334.6 1868.8,3342.5 C1870.3,3350.4 1871.0,3354.6 1872.0,3360.0 C1873.0,3365.4 1873.8,3370.3 1875.0,3375.0 C1876.2,3379.7 1877.5,3384.9 1879.0,3388.0 C1880.5,3391.1 1882.1,3395.1 1883.8,3393.8 C1885.4,3392.4 1887.3,3387.3 1888.8,3380.0 C1890.2,3372.7 1891.5,3360.0 1892.5,3350.0 C1893.5,3340.0 1894.4,3330.2 1895.0,3320.0 C1895.6,3309.8 1896.0,3294.2 1896.2,3289.0" fill="none" stroke="#17d417" stroke-width="3.50" stroke-linejoin="round" stroke-linecap="round"/>
<path d="M476.0,3425.0 C478.7,3424.8 483.5,3423.7 492.0,3424.0 C500.5,3424.3 517.4,3427.2 527.0,3427.0 C536.6,3426.8 540.3,3423.3 549.5,3423.0 C558.7,3422.7 572.8,3425.7 582.0,3425.0 C591.2,3424.3 597.0,3419.0 604.5,3419.0 C612.0,3419.0 619.5,3422.8 627.0,3425.0 C634.5,3427.2 642.4,3431.6 649.5,3432.0 C656.6,3432.4 664.1,3427.4 669.5,3427.5 C674.9,3427.6 678.2,3430.0 682.0,3432.5 C685.8,3435.0 688.7,3438.9 692.0,3442.5 C695.3,3446.1 697.8,3450.7 702.0,3454.0 C706.2,3457.3 711.6,3459.7 717.0,3462.5 C722.4,3465.3 728.7,3469.1 734.5,3471.0 C740.3,3472.9 746.6,3472.7 752.0,3474.0 C757.4,3475.3 759.9,3477.5 767.0,3479.0 C774.1,3480.5 787.0,3483.4 794.5,3483.0 C802.0,3482.6 805.8,3478.4 812.0,3476.5 C818.2,3474.6 824.5,3473.6 832.0,3471.5 C839.5,3469.4 848.7,3466.3 857.0,3464.0 C865.3,3461.7 872.4,3458.2 882.0,3457.5 C891.6,3456.8 905.3,3460.4 914.5,3460.0 C923.7,3459.6 929.1,3456.7 937.0,3455.0 C944.9,3453.3 954.5,3451.5 962.0,3450.0 C969.5,3448.5 975.3,3447.0 982.0,3446.0 C988.7,3445.0 994.1,3444.9 1002.0,3444.0 C1009.9,3443.1 1020.3,3441.2 1029.5,3440.5 C1038.7,3439.8 1049.5,3440.9 1057.0,3440.0 C1064.5,3439.1 1068.0,3435.7 1074.5,3435.0 C1081.0,3434.3 1089.9,3436.4 1096.0,3436.0 C1102.1,3435.6 1105.2,3433.9 1111.0,3432.5 C1116.8,3431.1 1123.5,3428.5 1131.0,3427.5 C1138.5,3426.5 1147.7,3427.1 1156.0,3426.5 C1164.3,3425.9 1172.2,3425.3 1181.0,3424.0 C1189.8,3422.7 1197.7,3419.3 1208.5,3418.5 C1219.3,3417.7 1235.6,3419.2 1246.0,3419.0 C1256.4,3418.8 1261.0,3417.6 1271.0,3417.5 C1281.0,3417.4 1295.2,3418.6 1306.0,3418.5 C1316.8,3418.4 1327.7,3417.5 1336.0,3417.0 C1344.3,3416.5 1347.7,3415.2 1356.0,3415.5 C1364.3,3415.8 1377.7,3416.8 1386.0,3419.0 C1394.3,3421.2 1399.3,3425.5 1406.0,3429.0 C1412.7,3432.5 1419.3,3436.7 1426.0,3440.0 C1432.7,3443.3 1441.0,3445.0 1446.0,3449.0 C1451.0,3453.0 1452.8,3457.2 1456.0,3464.0 C1459.2,3470.8 1462.3,3483.6 1465.0,3490.0 C1467.7,3496.4 1469.8,3502.1 1472.0,3502.5 C1474.2,3502.9 1475.8,3499.6 1478.5,3492.5 C1481.2,3485.4 1485.3,3467.5 1488.5,3460.0 C1491.7,3452.5 1494.6,3448.3 1497.5,3447.5 C1500.4,3446.7 1502.9,3452.5 1506.0,3455.0 C1509.1,3457.5 1512.7,3460.4 1516.0,3462.5 C1519.3,3464.6 1522.2,3463.2 1526.0,3467.5 C1529.8,3471.8 1534.8,3485.0 1538.5,3488.5 C1542.2,3492.0 1545.2,3489.2 1548.5,3488.5 C1551.8,3487.8 1553.9,3482.9 1558.5,3484.0 C1563.1,3485.1 1570.6,3492.8 1576.0,3495.0 C1581.4,3497.2 1587.0,3495.8 1591.0,3497.5 C1595.0,3499.2 1597.2,3501.5 1600.0,3505.0 C1602.8,3508.5 1604.6,3514.9 1607.5,3518.8 C1610.4,3522.6 1613.8,3527.4 1617.5,3528.0 C1621.2,3528.6 1625.8,3524.6 1630.0,3522.5 C1634.2,3520.4 1638.5,3517.2 1642.5,3515.5 C1646.5,3513.8 1650.6,3512.4 1653.8,3512.5 C1656.9,3512.6 1659.0,3513.8 1661.2,3516.2 C1663.5,3518.8 1665.2,3522.3 1667.5,3527.5 C1669.8,3532.7 1672.7,3540.4 1675.0,3547.5 C1677.3,3554.6 1679.2,3562.9 1681.2,3570.0 C1683.3,3577.1 1685.2,3584.4 1687.5,3590.0 C1689.8,3595.6 1692.1,3600.2 1695.0,3603.8 C1697.9,3607.3 1701.9,3611.0 1705.0,3611.2 C1708.1,3611.5 1710.8,3609.8 1713.8,3605.0 C1716.7,3600.2 1720.0,3589.6 1722.5,3582.5 C1725.0,3575.4 1726.5,3572.9 1728.8,3562.5 C1731.0,3552.1 1733.5,3532.9 1736.2,3520.0 C1739.0,3507.1 1742.1,3495.4 1745.0,3485.0 C1747.9,3474.6 1750.6,3465.0 1753.8,3457.5 C1756.9,3450.0 1760.6,3441.7 1763.8,3440.0 C1766.9,3438.3 1769.0,3441.7 1772.5,3447.5 C1776.0,3453.3 1780.8,3465.8 1785.0,3475.0 C1789.2,3484.2 1794.0,3496.7 1797.5,3502.5 C1801.0,3508.3 1802.9,3510.0 1806.2,3510.0 C1809.6,3510.0 1813.1,3505.8 1817.5,3502.5 C1821.9,3499.2 1828.3,3490.0 1832.5,3490.0 C1836.7,3490.0 1838.8,3495.8 1842.5,3502.5 C1846.2,3509.2 1851.2,3522.1 1855.0,3530.0 C1858.8,3537.9 1862.1,3549.2 1865.0,3550.0 C1867.9,3550.8 1870.1,3539.8 1872.5,3535.0 C1874.9,3530.2 1877.4,3520.8 1879.5,3521.2 C1881.6,3521.7 1883.2,3529.0 1885.0,3537.5 C1886.8,3546.0 1888.1,3556.2 1890.0,3572.5 C1891.9,3588.8 1895.2,3624.6 1896.2,3635.0" fill="none" stroke="#ff3b3b" stroke-width="3.20" stroke-linejoin="round" stroke-linecap="round"/>
<rect x="459.8" y="2646.5" width="1452.6" height="3.4" fill="#000"/>
<rect x="459.8" y="2646.5" width="4.3" height="114.0" fill="#000"/>
<rect x="459.8" y="2646.5" width="3.4" height="1044.0" fill="#000"/>
<rect x="1909.0" y="2646.5" width="3.4" height="1044.0" fill="#000"/>
<rect x="459.8" y="3687.2" width="1452.6" height="3.2" fill="#000"/>
<line x1="462.0" y1="2757.9" x2="469.7" y2="2757.9" stroke="#000" stroke-width="3.40"/>
<line x1="1903.0" y1="2757.9" x2="1910.7" y2="2757.9" stroke="#000" stroke-width="3.40"/>
<line x1="462.0" y1="2867.4" x2="469.7" y2="2867.4" stroke="#000" stroke-width="3.40"/>
<line x1="1903.0" y1="2867.4" x2="1910.7" y2="2867.4" stroke="#000" stroke-width="3.40"/>
<line x1="462.0" y1="2976.9" x2="469.7" y2="2976.9" stroke="#000" stroke-width="3.40"/>
<line x1="1903.0" y1="2976.9" x2="1910.7" y2="2976.9" stroke="#000" stroke-width="3.40"/>
<line x1="462.0" y1="3086.4" x2="469.7" y2="3086.4" stroke="#000" stroke-width="3.40"/>
<line x1="1903.0" y1="3086.4" x2="1910.7" y2="3086.4" stroke="#000" stroke-width="3.40"/>
<line x1="462.0" y1="3195.9" x2="469.7" y2="3195.9" stroke="#000" stroke-width="3.40"/>
<line x1="1903.0" y1="3195.9" x2="1910.7" y2="3195.9" stroke="#000" stroke-width="3.40"/>
<line x1="462.0" y1="3305.4" x2="469.7" y2="3305.4" stroke="#000" stroke-width="3.40"/>
<line x1="1903.0" y1="3305.4" x2="1910.7" y2="3305.4" stroke="#000" stroke-width="3.40"/>
<line x1="462.0" y1="3414.9" x2="469.7" y2="3414.9" stroke="#000" stroke-width="3.40"/>
<line x1="1903.0" y1="3414.9" x2="1910.7" y2="3414.9" stroke="#000" stroke-width="3.40"/>
<line x1="462.0" y1="3524.4" x2="469.7" y2="3524.4" stroke="#000" stroke-width="3.40"/>
<line x1="1903.0" y1="3524.4" x2="1910.7" y2="3524.4" stroke="#000" stroke-width="3.40"/>
<line x1="462.0" y1="3633.9" x2="469.7" y2="3633.9" stroke="#000" stroke-width="3.40"/>
<line x1="1903.0" y1="3633.9" x2="1910.7" y2="3633.9" stroke="#000" stroke-width="3.40"/>
<line x1="477.4" y1="3688.0" x2="477.4" y2="3708.0" stroke="#000" stroke-width="3.00"/>
<line x1="581.7" y1="3688.0" x2="581.7" y2="3698.0" stroke="#000" stroke-width="3.00"/>
<line x1="686.1" y1="3688.0" x2="686.1" y2="3708.0" stroke="#000" stroke-width="3.00"/>
<line x1="790.4" y1="3688.0" x2="790.4" y2="3698.0" stroke="#000" stroke-width="3.00"/>
<line x1="894.7" y1="3688.0" x2="894.7" y2="3708.0" stroke="#000" stroke-width="3.00"/>
<line x1="999.1" y1="3688.0" x2="999.1" y2="3698.0" stroke="#000" stroke-width="3.00"/>
<line x1="1103.4" y1="3688.0" x2="1103.4" y2="3708.0" stroke="#000" stroke-width="3.00"/>
<line x1="1207.7" y1="3688.0" x2="1207.7" y2="3698.0" stroke="#000" stroke-width="3.00"/>
<line x1="1312.1" y1="3688.0" x2="1312.1" y2="3708.0" stroke="#000" stroke-width="3.00"/>
<line x1="1416.4" y1="3688.0" x2="1416.4" y2="3698.0" stroke="#000" stroke-width="3.00"/>
<line x1="1520.7" y1="3688.0" x2="1520.7" y2="3708.0" stroke="#000" stroke-width="3.00"/>
<line x1="1625.1" y1="3688.0" x2="1625.1" y2="3698.0" stroke="#000" stroke-width="3.00"/>
<line x1="1729.4" y1="3688.0" x2="1729.4" y2="3708.0" stroke="#000" stroke-width="3.00"/>
<line x1="1833.7" y1="3688.0" x2="1833.7" y2="3698.0" stroke="#000" stroke-width="3.00"/>
<text transform="translate(426.81,3755.50) scale(1.1450,1)" font-size="39.40" fill="#000">4000</text>
<text transform="translate(635.13,3755.50) scale(1.1450,1)" font-size="39.40" fill="#000">3500</text>
<text transform="translate(843.80,3755.50) scale(1.1450,1)" font-size="39.40" fill="#000">3000</text>
<text transform="translate(1052.18,3755.50) scale(1.1450,1)" font-size="39.40" fill="#000">2500</text>
<text transform="translate(1260.85,3755.50) scale(1.1450,1)" font-size="39.40" fill="#000">2000</text>
<text transform="translate(1468.95,3755.50) scale(1.1450,1)" font-size="39.40" fill="#000">1500</text>
<text transform="translate(1677.61,3755.50) scale(1.1450,1)" font-size="39.40" fill="#000">1000</text>
<rect x="495.9" y="2810.8" width="442.1" height="244.2" fill="#fff" stroke="#666" stroke-width="1.6"/>
<line x1="500.8" y1="2840.0" x2="601.1" y2="2840.0" stroke="#8a8a8a" stroke-width="3.20"/>
<line x1="500.8" y1="2902.4" x2="601.1" y2="2902.4" stroke="#1ea7ff" stroke-width="3.20"/>
<line x1="500.8" y1="2964.1" x2="601.1" y2="2964.1" stroke="#17d417" stroke-width="3.20"/>
<line x1="500.8" y1="3025.8" x2="601.1" y2="3025.8" stroke="#ff3b3b" stroke-width="3.20"/>
<text transform="translate(613.2,2855.1) scale(1.095,1)" font-size="40.0">CNF<tspan font-size="28.0" dy="11.5">25</tspan></text>
<text transform="translate(613.2,2916) scale(1.095,1)" font-size="40.0">rGO/CNF<tspan font-size="28.0" dy="11.5">25</tspan><tspan dy="-11.5">/TA</tspan><tspan font-size="28.0" dy="11.5">5</tspan></text>
<text transform="translate(613.2,2977.4) scale(1.095,1)" font-size="40.0">rGO/CNF<tspan font-size="28.0" dy="11.5">25</tspan><tspan dy="-11.5">/TA</tspan><tspan font-size="28.0" dy="11.5">10</tspan></text>
<text transform="translate(613.2,3039.8) scale(1.095,1)" font-size="40.0">TA</text>
<text transform="translate(1532.01,2927.76) scale(1.0618,1)" font-size="23.75" fill="#111">1560</text>
<line x1="1526.9" y1="2909.4" x2="1507.0" y2="2874.7" stroke="#222" stroke-width="1.40"/><polygon points="1500.0,2862.6 1512.5,2873.9 1503.5,2879.1" fill="#000"/>
<text transform="translate(1730.02,3137.86) scale(1.0816,1)" font-size="23.60" fill="#111">826</text>
<line x1="1780.3" y1="3120.9" x2="1791.9" y2="3102.0" stroke="#222" stroke-width="1.40"/><polygon points="1799.3,3090.1 1795.3,3106.4 1786.5,3101.0" fill="#000"/>
<text transform="translate(1814.46,3166.87) scale(1.0863,1)" font-size="22.90" fill="#111">760</text>
<line x1="1836.5" y1="3143.3" x2="1833.8" y2="3111.3" stroke="#222" stroke-width="1.40"/><polygon points="1832.4,3095.4 1838.7,3112.9 1829.2,3113.7" fill="#000"/>
<text transform="translate(1509.92,3561.76) scale(1.0293,1)" font-size="24.31" fill="#111">1260</text>
<line x1="1578.9" y1="3547.8" x2="1602.0" y2="3536.2" stroke="#222" stroke-width="1.40"/><polygon points="1613.6,3530.4 1602.5,3541.8 1597.9,3532.5" fill="#000"/>
<text transform="translate(1577.49,3646.76) scale(1.0469,1)" font-size="24.31" fill="#111">1060</text>
<line x1="1646.6" y1="3630.2" x2="1685.4" y2="3616.2" stroke="#222" stroke-width="1.40"/><polygon points="1699.5,3611.1 1685.4,3622.0 1681.6,3611.7" fill="#000"/>
<text transform="translate(1500.70,3685.05) scale(1.0603,1) rotate(-90)" font-size="28.66" fill="#9a9a9a">1615</text>
<text transform="translate(1744.90,3685.07) scale(1.0487,1) rotate(-90)" font-size="28.98" fill="#9a9a9a">1033</text>
<text transform="translate(1836.30,3684.12) scale(1.0626,1) rotate(-90)" font-size="28.60" fill="#9a9a9a">810</text>
<text transform="translate(436.40,3404.20) scale(1.0720,1) rotate(-90)" font-size="53.45" fill="#000">Transmittance (a.u.)</text>
<text transform="translate(957.22,3879.40) scale(1.0380,1)" font-size="53.50" fill="#000">Wavelength (cm</text>
<text transform="translate(1354.88,3856.35) scale(0.9338,1)" font-size="40.91" fill="#000" style="font-family:'Liberation Sans',Arial,sans-serif;font-weight:bold">&#8722;</text>
<text transform="translate(1377.80,3857.30) scale(0.7756,1)" font-size="36.07" fill="#000">1</text>
<text transform="translate(1401.48,3879.40) scale(1.0380,1)" font-size="53.50" fill="#000">)</text>
<rect x="900.0" y="3885.5" width="600.0" height="50.5" fill="#fff"/>
<text transform="translate(66.02,3888.08)" font-size="84.0" style="font-family:'Liberation Serif',serif">(<tspan font-weight="bold">c</tspan>)</text>
</svg></body></html>
